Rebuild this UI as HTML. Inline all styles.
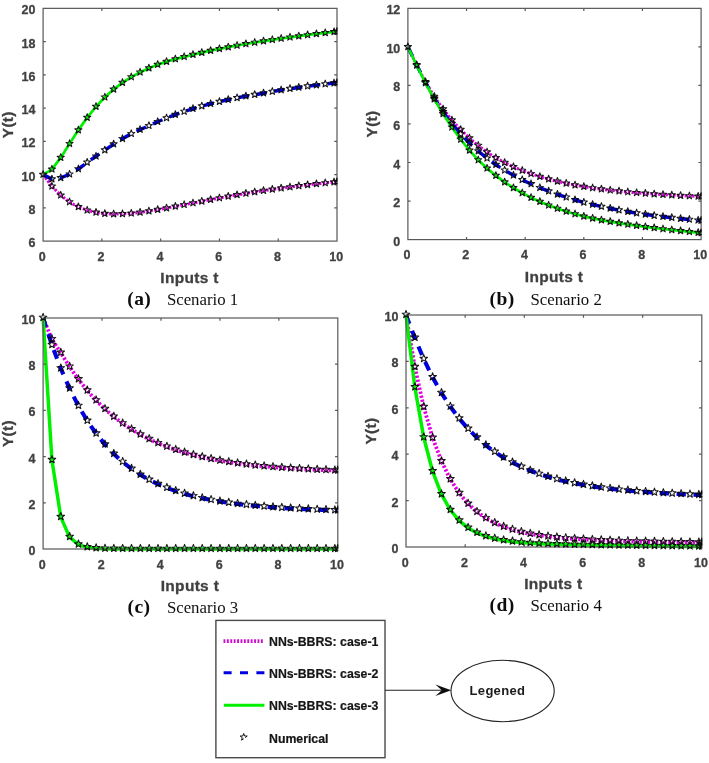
<!DOCTYPE html>
<html lang="en"><head><meta charset="utf-8"><title>NNs-BBRS scenarios</title>
<style>
html,body{margin:0;padding:0;background:#fff;}
body{width:709px;height:763px;overflow:hidden;position:relative;}
svg{position:absolute;left:0;top:0;display:block;}
.tk{font-family:"Liberation Sans",sans-serif;font-weight:bold;font-size:12.5px;fill:#404040;stroke:#444;stroke-width:0.3px;}
.lb{font-family:"Liberation Sans",sans-serif;font-weight:bold;font-size:15.5px;letter-spacing:0.3px;fill:#404040;stroke:#444;stroke-width:0.3px;}
.lg{font-family:"Liberation Sans",sans-serif;font-weight:bold;font-size:12.3px;fill:#141414;stroke:#141414;stroke-width:0.2px;}
.cb{font-family:"Liberation Serif",serif;font-weight:bold;font-size:19.5px;letter-spacing:0.4px;fill:#111;}
.cr{font-family:"Liberation Serif",serif;font-size:16.8px;fill:#111;}
.ax{fill:none;stroke:#585858;stroke-width:1.2;}
.st{fill:none;stroke:#000;stroke-opacity:0.92;stroke-width:1.05;stroke-linejoin:round;}
.g{fill:none;stroke:#00f000;stroke-width:2.7;}
.b{fill:none;stroke:#0000de;stroke-width:3;stroke-dasharray:9.5 7.8;}
.m{fill:none;stroke:#e000e0;stroke-width:2.8;stroke-dasharray:2.2 1.6;}
</style></head><body>
<svg width="709" height="763" viewBox="0 0 709 763">
<defs><filter id="bl" x="-5%" y="-5%" width="110%" height="110%"><feGaussianBlur stdDeviation="0.55"/></filter><filter id="bl2" x="-5%" y="-5%" width="110%" height="110%"><feGaussianBlur stdDeviation="0.75"/></filter></defs>
<rect x="0" y="0" width="709" height="763" fill="#ffffff"/>

<g id="curves-a" filter="url(#bl2)">
<clipPath id="clip-a"><rect x="35.1" y="0.35" width="302.5" height="248.75"/></clipPath>
<path class="m" style="stroke-width:3;stroke-dasharray:2.3 1.5" d="M43.1 174.6 L51.92 186.34 L60.73 195.33 L69.55 202.05 L78.37 206.93 L87.19 210.31 L96 212.49 L104.82 213.69 L113.64 214.14 L122.45 213.98 L131.27 213.35 L140.09 212.37 L148.9 211.12 L157.72 209.69 L166.54 208.12 L175.35 206.47 L184.17 204.78 L192.99 203.07 L201.81 201.38 L210.62 199.7 L219.44 198.07 L228.26 196.48 L237.07 194.96 L245.89 193.49 L254.71 192.08 L263.52 190.74 L272.34 189.46 L281.16 188.24 L289.98 187.08 L298.79 185.98 L307.61 184.94 L316.43 183.95 L325.24 183.01 L334.06 182.11 L337 181.82"/>
<path class="b" style="stroke-width:3.5;stroke-dasharray:10.5 7.5" d="M43.1 174.6 L51.92 179.15 L60.73 177.88 L69.55 174.28 L78.37 169.02 L87.19 162.41 L96 156.29 L104.82 150.12 L113.64 144.21 L122.45 138.8 L131.27 133.76 L140.09 129.58 L148.9 125.75 L157.72 121.76 L166.54 118.07 L175.35 114.68 L184.17 111.55 L192.99 108.7 L201.81 106.15 L210.62 103.81 L219.44 101.66 L228.26 99.69 L237.07 97.88 L245.89 96.22 L254.71 94.7 L263.52 93.2 L272.34 91.59 L281.16 90.1 L289.98 88.71 L298.79 87.42 L307.61 86.23 L316.43 85.12 L325.24 84.08 L334.06 83.11 L337 82.8"/>
<path class="g" style="stroke-width:2.7;stroke-dasharray:none" d="M43.1 174.6 L51.92 169.35 L60.73 157.64 L69.55 143.81 L78.37 130.12 L87.19 117.6 L96 106.64 L104.82 97.27 L113.64 89.35 L122.45 82.68 L131.27 77.05 L140.09 72.27 L148.9 68.16 L157.72 64.6 L166.54 61.63 L175.35 59.09 L184.17 56.82 L192.99 54.7 L201.81 52.6 L210.62 50.66 L219.44 48.84 L228.26 47.13 L237.07 45.52 L245.89 43.99 L254.71 42.54 L263.52 41.15 L272.34 39.81 L281.16 38.53 L289.98 37.3 L298.79 36.13 L307.61 35 L316.43 33.93 L325.24 32.9 L334.06 31.91 L337 31.59"/>
</g>
<g id="plot-a" filter="url(#bl)">
<rect class="ax" x="43.1" y="8.35" width="293.9" height="232.75"/>
<path class="ax" d="M101.88 241.1v-2.7M101.88 8.35v2.7M160.66 241.1v-2.7M160.66 8.35v2.7M219.44 241.1v-2.7M219.44 8.35v2.7M278.22 241.1v-2.7M278.22 8.35v2.7M43.1 207.85h2.7M337 207.85h-2.7M43.1 174.6h2.7M337 174.6h-2.7M43.1 141.35h2.7M337 141.35h-2.7M43.1 108.1h2.7M337 108.1h-2.7M43.1 74.85h2.7M337 74.85h-2.7M43.1 41.6h2.7M337 41.6h-2.7"/>
<text class="tk" x="42.3" y="260.9" text-anchor="middle">0</text>
<text class="tk" x="101.08" y="260.9" text-anchor="middle">2</text>
<text class="tk" x="159.86" y="260.9" text-anchor="middle">4</text>
<text class="tk" x="218.64" y="260.9" text-anchor="middle">6</text>
<text class="tk" x="277.42" y="260.9" text-anchor="middle">8</text>
<text class="tk" x="336.2" y="260.9" text-anchor="middle">10</text>
<text class="tk" x="35.5" y="247.1" text-anchor="end">6</text>
<text class="tk" x="35.5" y="213.85" text-anchor="end">8</text>
<text class="tk" x="35.5" y="180.6" text-anchor="end">10</text>
<text class="tk" x="35.5" y="147.35" text-anchor="end">12</text>
<text class="tk" x="35.5" y="114.1" text-anchor="end">14</text>
<text class="tk" x="35.5" y="80.85" text-anchor="end">16</text>
<text class="tk" x="35.5" y="47.6" text-anchor="end">18</text>
<text class="tk" x="35.5" y="14.35" text-anchor="end">20</text>
<text class="lb" x="189.55" y="283.1" text-anchor="middle">Inputs t</text>
<text class="lb" transform="translate(12.6 124.72) rotate(-90)" text-anchor="middle">Y(t)</text>
<text class="cb" x="127.3" y="305.4">(a)</text>
<text class="cr" x="166.9" y="305.4">Scenario 1</text>
</g>
<g id="stars-a" filter="url(#bl2)">
<path class="st" clip-path="url(#clip-a)" d="M43.1 170.65L44.01 173.14L46.67 173.24L44.58 174.88L45.3 177.43L43.1 175.96L40.9 177.43L41.62 174.88L39.53 173.24L42.19 173.14ZM51.92 182.39L52.83 184.88L55.48 184.98L53.4 186.62L54.12 189.18L51.92 187.7L49.71 189.18L50.44 186.62L48.35 184.98L51 184.88ZM60.73 191.38L61.65 193.87L64.3 193.97L62.21 195.61L62.94 198.16L60.73 196.68L58.53 198.16L59.25 195.61L57.17 193.97L59.82 193.87ZM69.55 198.1L70.47 200.59L73.12 200.69L71.03 202.33L71.76 204.88L69.55 203.41L67.35 204.88L68.07 202.33L65.98 200.69L68.64 200.59ZM78.37 202.98L79.28 205.47L81.93 205.57L79.85 207.21L80.57 209.76L78.37 208.29L76.16 209.76L76.89 207.21L74.8 205.57L77.45 205.47ZM87.19 206.36L88.1 208.85L90.75 208.95L88.67 210.59L89.39 213.15L87.19 211.67L84.98 213.15L85.7 210.59L83.62 208.95L86.27 208.85ZM96 208.54L96.92 211.03L99.57 211.13L97.48 212.77L98.21 215.32L96 213.84L93.8 215.32L94.52 212.77L92.44 211.13L95.09 211.03ZM104.82 209.74L105.73 212.24L108.39 212.34L106.3 213.98L107.02 216.53L104.82 215.05L102.61 216.53L103.34 213.98L101.25 212.34L103.9 212.24ZM113.64 210.19L114.55 212.68L117.2 212.78L115.12 214.42L115.84 216.97L113.64 215.49L111.43 216.97L112.16 214.42L110.07 212.78L112.72 212.68ZM122.45 210.03L123.37 212.52L126.02 212.62L123.93 214.26L124.66 216.81L122.45 215.33L120.25 216.81L120.97 214.26L118.89 212.62L121.54 212.52ZM131.27 209.4L132.18 211.89L134.84 211.99L132.75 213.63L133.47 216.18L131.27 214.71L129.07 216.18L129.79 213.63L127.7 211.99L130.36 211.89ZM140.09 208.42L141 210.91L143.65 211.01L141.57 212.65L142.29 215.2L140.09 213.72L137.88 215.2L138.61 212.65L136.52 211.01L139.17 210.91ZM148.9 207.17L149.82 209.66L152.47 209.76L150.38 211.4L151.11 213.96L148.9 212.48L146.7 213.96L147.42 211.4L145.34 209.76L147.99 209.66ZM157.72 205.74L158.64 208.23L161.29 208.33L159.2 209.97L159.93 212.52L157.72 211.04L155.52 212.52L156.24 209.97L154.15 208.33L156.81 208.23ZM166.54 204.17L167.45 206.66L170.1 206.76L168.02 208.4L168.74 210.96L166.54 209.48L164.33 210.96L165.06 208.4L162.97 206.76L165.62 206.66ZM175.35 202.52L176.27 205.02L178.92 205.12L176.84 206.76L177.56 209.31L175.35 207.83L173.15 209.31L173.87 206.76L171.79 205.12L174.44 205.02ZM184.17 200.83L185.09 203.32L187.74 203.42L185.65 205.06L186.38 207.62L184.17 206.14L181.97 207.62L182.69 205.06L180.61 203.42L183.26 203.32ZM192.99 199.12L193.9 201.62L196.56 201.72L194.47 203.36L195.19 205.91L192.99 204.43L190.78 205.91L191.51 203.36L189.42 201.72L192.07 201.62ZM201.81 197.43L202.72 199.92L205.37 200.02L203.29 201.66L204.01 204.21L201.81 202.73L199.6 204.21L200.33 201.66L198.24 200.02L200.89 199.92ZM210.62 195.75L211.54 198.24L214.19 198.34L212.1 199.98L212.83 202.54L210.62 201.06L208.42 202.54L209.14 199.98L207.06 198.34L209.71 198.24ZM219.44 194.12L220.35 196.61L223.01 196.71L220.92 198.35L221.64 200.9L219.44 199.43L217.24 200.9L217.96 198.35L215.87 196.71L218.53 196.61ZM228.26 192.53L229.17 195.03L231.82 195.13L229.74 196.77L230.46 199.32L228.26 197.84L226.05 199.32L226.78 196.77L224.69 195.13L227.34 195.03ZM237.07 191.01L237.99 193.5L240.64 193.6L238.55 195.24L239.28 197.79L237.07 196.31L234.87 197.79L235.59 195.24L233.51 193.6L236.16 193.5ZM245.89 189.54L246.81 192.03L249.46 192.13L247.37 193.77L248.1 196.32L245.89 194.84L243.69 196.32L244.41 193.77L242.32 192.13L244.98 192.03ZM254.71 188.13L255.62 190.62L258.27 190.72L256.19 192.36L256.91 194.91L254.71 193.44L252.5 194.91L253.23 192.36L251.14 190.72L253.79 190.62ZM263.52 186.79L264.44 189.28L267.09 189.38L265.01 191.02L265.73 193.57L263.52 192.09L261.32 193.57L262.04 191.02L259.96 189.38L262.61 189.28ZM272.34 185.51L273.26 188L275.91 188.1L273.82 189.74L274.55 192.29L272.34 190.81L270.14 192.29L270.86 189.74L268.78 188.1L271.43 188ZM281.16 184.29L282.07 186.78L284.73 186.88L282.64 188.52L283.36 191.07L281.16 189.6L278.95 191.07L279.68 188.52L277.59 186.88L280.24 186.78ZM289.98 183.13L290.89 185.62L293.54 185.72L291.46 187.36L292.18 189.92L289.98 188.44L287.77 189.92L288.5 187.36L286.41 185.72L289.06 185.62ZM298.79 182.03L299.71 184.52L302.36 184.62L300.27 186.26L301 188.82L298.79 187.34L296.59 188.82L297.31 186.26L295.23 184.62L297.88 184.52ZM307.61 180.99L308.52 183.48L311.18 183.58L309.09 185.22L309.81 187.77L307.61 186.29L305.41 187.77L306.13 185.22L304.04 183.58L306.7 183.48ZM316.43 180L317.34 182.49L319.99 182.59L317.91 184.23L318.63 186.78L316.43 185.3L314.22 186.78L314.95 184.23L312.86 182.59L315.51 182.49ZM325.24 179.06L326.16 181.55L328.81 181.65L326.72 183.29L327.45 185.84L325.24 184.36L323.04 185.84L323.76 183.29L321.68 181.65L324.33 181.55ZM334.06 178.16L334.98 180.65L337.63 180.75L335.54 182.39L336.27 184.95L334.06 183.47L331.86 184.95L332.58 182.39L330.49 180.75L333.15 180.65ZM337 177.87L337.91 180.36L340.57 180.46L338.48 182.1L339.2 184.66L337 183.18L334.8 184.66L335.52 182.1L333.43 180.46L336.09 180.36ZM43.1 170.65L44.01 173.14L46.67 173.24L44.58 174.88L45.3 177.43L43.1 175.96L40.9 177.43L41.62 174.88L39.53 173.24L42.19 173.14ZM51.92 175.2L52.83 177.69L55.48 177.79L53.4 179.43L54.12 181.98L51.92 180.51L49.71 181.98L50.44 179.43L48.35 177.79L51 177.69ZM60.73 173.93L61.65 176.42L64.3 176.52L62.21 178.16L62.94 180.71L60.73 179.23L58.53 180.71L59.25 178.16L57.17 176.52L59.82 176.42ZM69.55 170.33L70.47 172.82L73.12 172.92L71.03 174.56L71.76 177.11L69.55 175.63L67.35 177.11L68.07 174.56L65.98 172.92L68.64 172.82ZM78.37 165.07L79.28 167.56L81.93 167.66L79.85 169.3L80.57 171.85L78.37 170.37L76.16 171.85L76.89 169.3L74.8 167.66L77.45 167.56ZM87.19 158.46L88.1 160.95L90.75 161.05L88.67 162.69L89.39 165.24L87.19 163.77L84.98 165.24L85.7 162.69L83.62 161.05L86.27 160.95ZM96 152.34L96.92 154.83L99.57 154.93L97.48 156.57L98.21 159.12L96 157.65L93.8 159.12L94.52 156.57L92.44 154.93L95.09 154.83ZM104.82 146.17L105.73 148.66L108.39 148.76L106.3 150.4L107.02 152.95L104.82 151.47L102.61 152.95L103.34 150.4L101.25 148.76L103.9 148.66ZM113.64 140.26L114.55 142.75L117.2 142.85L115.12 144.49L115.84 147.04L113.64 145.56L111.43 147.04L112.16 144.49L110.07 142.85L112.72 142.75ZM122.45 134.85L123.37 137.34L126.02 137.44L123.93 139.08L124.66 141.64L122.45 140.16L120.25 141.64L120.97 139.08L118.89 137.44L121.54 137.34ZM131.27 129.81L132.18 132.3L134.84 132.4L132.75 134.04L133.47 136.59L131.27 135.12L129.07 136.59L129.79 134.04L127.7 132.4L130.36 132.3ZM140.09 125.63L141 128.12L143.65 128.22L141.57 129.86L142.29 132.42L140.09 130.94L137.88 132.42L138.61 129.86L136.52 128.22L139.17 128.12ZM148.9 121.8L149.82 124.3L152.47 124.4L150.38 126.03L151.11 128.59L148.9 127.11L146.7 128.59L147.42 126.03L145.34 124.4L147.99 124.3ZM157.72 117.81L158.64 120.3L161.29 120.4L159.2 122.04L159.93 124.59L157.72 123.12L155.52 124.59L156.24 122.04L154.15 120.4L156.81 120.3ZM166.54 114.12L167.45 116.62L170.1 116.72L168.02 118.36L168.74 120.91L166.54 119.43L164.33 120.91L165.06 118.36L162.97 116.72L165.62 116.62ZM175.35 110.73L176.27 113.22L178.92 113.32L176.84 114.96L177.56 117.51L175.35 116.03L173.15 117.51L173.87 114.96L171.79 113.32L174.44 113.22ZM184.17 107.6L185.09 110.09L187.74 110.19L185.65 111.83L186.38 114.38L184.17 112.9L181.97 114.38L182.69 111.83L180.61 110.19L183.26 110.09ZM192.99 104.75L193.9 107.24L196.56 107.34L194.47 108.98L195.19 111.53L192.99 110.06L190.78 111.53L191.51 108.98L189.42 107.34L192.07 107.24ZM201.81 102.2L202.72 104.69L205.37 104.79L203.29 106.43L204.01 108.98L201.81 107.51L199.6 108.98L200.33 106.43L198.24 104.79L200.89 104.69ZM210.62 99.86L211.54 102.35L214.19 102.45L212.1 104.09L212.83 106.64L210.62 105.17L208.42 106.64L209.14 104.09L207.06 102.45L209.71 102.35ZM219.44 97.71L220.35 100.2L223.01 100.3L220.92 101.94L221.64 104.5L219.44 103.02L217.24 104.5L217.96 101.94L215.87 100.3L218.53 100.2ZM228.26 95.74L229.17 98.24L231.82 98.34L229.74 99.98L230.46 102.53L228.26 101.05L226.05 102.53L226.78 99.98L224.69 98.34L227.34 98.24ZM237.07 93.93L237.99 96.43L240.64 96.53L238.55 98.17L239.28 100.72L237.07 99.24L234.87 100.72L235.59 98.17L233.51 96.53L236.16 96.43ZM245.89 92.27L246.81 94.76L249.46 94.86L247.37 96.5L248.1 99.06L245.89 97.58L243.69 99.06L244.41 96.5L242.32 94.86L244.98 94.76ZM254.71 90.75L255.62 93.24L258.27 93.34L256.19 94.98L256.91 97.53L254.71 96.06L252.5 97.53L253.23 94.98L251.14 93.34L253.79 93.24ZM263.52 89.25L264.44 91.74L267.09 91.84L265.01 93.48L265.73 96.03L263.52 94.55L261.32 96.03L262.04 93.48L259.96 91.84L262.61 91.74ZM272.34 87.64L273.26 90.14L275.91 90.24L273.82 91.88L274.55 94.43L272.34 92.95L270.14 94.43L270.86 91.88L268.78 90.24L271.43 90.14ZM281.16 86.15L282.07 88.64L284.73 88.74L282.64 90.38L283.36 92.93L281.16 91.46L278.95 92.93L279.68 90.38L277.59 88.74L280.24 88.64ZM289.98 84.76L290.89 87.25L293.54 87.35L291.46 88.99L292.18 91.54L289.98 90.06L287.77 91.54L288.5 88.99L286.41 87.35L289.06 87.25ZM298.79 83.47L299.71 85.96L302.36 86.06L300.27 87.7L301 90.26L298.79 88.78L296.59 90.26L297.31 87.7L295.23 86.06L297.88 85.96ZM307.61 82.28L308.52 84.77L311.18 84.87L309.09 86.51L309.81 89.07L307.61 87.59L305.41 89.07L306.13 86.51L304.04 84.87L306.7 84.77ZM316.43 81.17L317.34 83.66L319.99 83.76L317.91 85.4L318.63 87.95L316.43 86.48L314.22 87.95L314.95 85.4L312.86 83.76L315.51 83.66ZM325.24 80.13L326.16 82.62L328.81 82.72L326.72 84.36L327.45 86.91L325.24 85.44L323.04 86.91L323.76 84.36L321.68 82.72L324.33 82.62ZM334.06 79.16L334.98 81.65L337.63 81.75L335.54 83.39L336.27 85.94L334.06 84.46L331.86 85.94L332.58 83.39L330.49 81.75L333.15 81.65ZM337 78.85L337.91 81.34L340.57 81.44L338.48 83.08L339.2 85.63L337 84.15L334.8 85.63L335.52 83.08L333.43 81.44L336.09 81.34ZM43.1 170.65L44.01 173.14L46.67 173.24L44.58 174.88L45.3 177.43L43.1 175.96L40.9 177.43L41.62 174.88L39.53 173.24L42.19 173.14ZM51.92 165.4L52.83 167.89L55.48 167.99L53.4 169.63L54.12 172.18L51.92 170.7L49.71 172.18L50.44 169.63L48.35 167.99L51 167.89ZM60.73 153.69L61.65 156.18L64.3 156.28L62.21 157.92L62.94 160.47L60.73 158.99L58.53 160.47L59.25 157.92L57.17 156.28L59.82 156.18ZM69.55 139.86L70.47 142.35L73.12 142.45L71.03 144.09L71.76 146.64L69.55 145.17L67.35 146.64L68.07 144.09L65.98 142.45L68.64 142.35ZM78.37 126.17L79.28 128.66L81.93 128.76L79.85 130.4L80.57 132.95L78.37 131.47L76.16 132.95L76.89 130.4L74.8 128.76L77.45 128.66ZM87.19 113.65L88.1 116.14L90.75 116.24L88.67 117.88L89.39 120.44L87.19 118.96L84.98 120.44L85.7 117.88L83.62 116.24L86.27 116.14ZM96 102.69L96.92 105.19L99.57 105.29L97.48 106.93L98.21 109.48L96 108L93.8 109.48L94.52 106.93L92.44 105.29L95.09 105.19ZM104.82 93.32L105.73 95.81L108.39 95.91L106.3 97.55L107.02 100.11L104.82 98.63L102.61 100.11L103.34 97.55L101.25 95.91L103.9 95.81ZM113.64 85.4L114.55 87.89L117.2 87.99L115.12 89.63L115.84 92.19L113.64 90.71L111.43 92.19L112.16 89.63L110.07 87.99L112.72 87.89ZM122.45 78.73L123.37 81.22L126.02 81.32L123.93 82.96L124.66 85.52L122.45 84.04L120.25 85.52L120.97 82.96L118.89 81.32L121.54 81.22ZM131.27 73.1L132.18 75.59L134.84 75.69L132.75 77.33L133.47 79.89L131.27 78.41L129.07 79.89L129.79 77.33L127.7 75.69L130.36 75.59ZM140.09 68.32L141 70.81L143.65 70.91L141.57 72.55L142.29 75.1L140.09 73.62L137.88 75.1L138.61 72.55L136.52 70.91L139.17 70.81ZM148.9 64.21L149.82 66.7L152.47 66.8L150.38 68.44L151.11 71L148.9 69.52L146.7 71L147.42 68.44L145.34 66.8L147.99 66.7ZM157.72 60.65L158.64 63.14L161.29 63.24L159.2 64.88L159.93 67.43L157.72 65.96L155.52 67.43L156.24 64.88L154.15 63.24L156.81 63.14ZM166.54 57.68L167.45 60.17L170.1 60.27L168.02 61.91L168.74 64.47L166.54 62.99L164.33 64.47L165.06 61.91L162.97 60.27L165.62 60.17ZM175.35 55.14L176.27 57.63L178.92 57.73L176.84 59.37L177.56 61.92L175.35 60.45L173.15 61.92L173.87 59.37L171.79 57.73L174.44 57.63ZM184.17 52.87L185.09 55.36L187.74 55.46L185.65 57.1L186.38 59.65L184.17 58.18L181.97 59.65L182.69 57.1L180.61 55.46L183.26 55.36ZM192.99 50.75L193.9 53.24L196.56 53.34L194.47 54.98L195.19 57.53L192.99 56.05L190.78 57.53L191.51 54.98L189.42 53.34L192.07 53.24ZM201.81 48.65L202.72 51.14L205.37 51.24L203.29 52.88L204.01 55.44L201.81 53.96L199.6 55.44L200.33 52.88L198.24 51.24L200.89 51.14ZM210.62 46.71L211.54 49.2L214.19 49.3L212.1 50.94L212.83 53.49L210.62 52.01L208.42 53.49L209.14 50.94L207.06 49.3L209.71 49.2ZM219.44 44.89L220.35 47.38L223.01 47.48L220.92 49.12L221.64 51.67L219.44 50.2L217.24 51.67L217.96 49.12L215.87 47.48L218.53 47.38ZM228.26 43.18L229.17 45.67L231.82 45.77L229.74 47.41L230.46 49.97L228.26 48.49L226.05 49.97L226.78 47.41L224.69 45.77L227.34 45.67ZM237.07 41.57L237.99 44.06L240.64 44.16L238.55 45.8L239.28 48.35L237.07 46.87L234.87 48.35L235.59 45.8L233.51 44.16L236.16 44.06ZM245.89 40.04L246.81 42.53L249.46 42.63L247.37 44.27L248.1 46.82L245.89 45.35L243.69 46.82L244.41 44.27L242.32 42.63L244.98 42.53ZM254.71 38.59L255.62 41.08L258.27 41.18L256.19 42.82L256.91 45.37L254.71 43.89L252.5 45.37L253.23 42.82L251.14 41.18L253.79 41.08ZM263.52 37.2L264.44 39.69L267.09 39.79L265.01 41.43L265.73 43.98L263.52 42.5L261.32 43.98L262.04 41.43L259.96 39.79L262.61 39.69ZM272.34 35.86L273.26 38.35L275.91 38.45L273.82 40.09L274.55 42.64L272.34 41.16L270.14 42.64L270.86 40.09L268.78 38.45L271.43 38.35ZM281.16 34.58L282.07 37.07L284.73 37.17L282.64 38.81L283.36 41.36L281.16 39.88L278.95 41.36L279.68 38.81L277.59 37.17L280.24 37.07ZM289.98 33.35L290.89 35.84L293.54 35.94L291.46 37.58L292.18 40.13L289.98 38.66L287.77 40.13L288.5 37.58L286.41 35.94L289.06 35.84ZM298.79 32.18L299.71 34.67L302.36 34.77L300.27 36.41L301 38.96L298.79 37.48L296.59 38.96L297.31 36.41L295.23 34.77L297.88 34.67ZM307.61 31.05L308.52 33.55L311.18 33.65L309.09 35.29L309.81 37.84L307.61 36.36L305.41 37.84L306.13 35.29L304.04 33.65L306.7 33.55ZM316.43 29.98L317.34 32.47L319.99 32.57L317.91 34.21L318.63 36.76L316.43 35.28L314.22 36.76L314.95 34.21L312.86 32.57L315.51 32.47ZM325.24 28.95L326.16 31.44L328.81 31.54L326.72 33.18L327.45 35.73L325.24 34.25L323.04 35.73L323.76 33.18L321.68 31.54L324.33 31.44ZM334.06 27.96L334.98 30.45L337.63 30.55L335.54 32.19L336.27 34.74L334.06 33.27L331.86 34.74L332.58 32.19L330.49 30.55L333.15 30.45ZM337 27.64L337.91 30.13L340.57 30.23L338.48 31.87L339.2 34.42L337 32.95L334.8 34.42L335.52 31.87L333.43 30.23L336.09 30.13Z"/>
</g>
<g id="curves-b" filter="url(#bl2)">
<clipPath id="clip-b"><rect x="399.9" y="0.35" width="301.8" height="247.25"/></clipPath>
<path class="m" style="stroke-width:3;stroke-dasharray:2.3 1.5" d="M407.9 46.89 L416.7 65.16 L425.49 81.92 L434.29 96.51 L443.08 109.17 L451.88 120.15 L460.68 129.7 L469.47 138.09 L478.27 145.55 L487.06 152.09 L495.86 157.83 L504.66 162.65 L513.45 166.86 L522.25 170.56 L531.04 173.81 L539.84 176.67 L548.64 179.19 L557.43 181.42 L566.23 183.39 L575.02 185.14 L583.82 186.7 L592.62 188.03 L601.41 189.21 L610.21 190.27 L619 191.21 L627.8 192.06 L636.6 192.82 L645.39 193.5 L654.19 194.11 L662.98 194.67 L671.78 195.17 L680.58 195.63 L689.37 196.04 L698.17 196.42 L701.1 196.53"/>
<path class="b" style="stroke-width:3.5;stroke-dasharray:10.5 7.5" d="M407.9 46.89 L416.7 64.95 L425.49 82.49 L434.29 98.26 L443.08 112 L451.88 123.86 L460.68 134.12 L469.47 143.11 L478.27 151.17 L487.06 158.32 L495.86 164.72 L504.66 170.28 L513.45 175.3 L522.25 179.85 L531.04 183.98 L539.84 187.76 L548.64 191.21 L557.43 194.38 L566.23 197.27 L575.02 199.93 L583.82 202.38 L592.62 204.57 L601.41 206.58 L610.21 208.43 L619 210.13 L627.8 211.68 L636.6 213.11 L645.39 214.42 L654.19 215.62 L662.98 216.72 L671.78 217.73 L680.58 218.66 L689.37 219.51 L698.17 220.29 L701.1 220.53"/>
<path class="g" style="stroke-width:2.7;stroke-dasharray:none" d="M407.9 46.89 L416.7 65.47 L425.49 83.01 L434.29 99.22 L443.08 113.97 L451.88 127.26 L460.68 139.5 L469.47 150.43 L478.27 160.04 L487.06 168.34 L495.86 175.67 L504.66 182.15 L513.45 187.88 L522.25 193.03 L531.04 197.6 L539.84 201.67 L548.64 205.31 L557.43 208.55 L566.23 211.45 L575.02 214.06 L583.82 216.42 L592.62 218.36 L601.41 220.12 L610.21 221.71 L619 223.16 L627.8 224.49 L636.6 225.71 L645.39 226.87 L654.19 227.98 L662.98 229.02 L671.78 230.01 L680.58 230.94 L689.37 231.83 L698.17 232.68 L701.1 232.95"/>
</g>
<g id="plot-b" filter="url(#bl)">
<rect class="ax" x="407.9" y="8.35" width="293.2" height="231.25"/>
<path class="ax" d="M466.54 239.6v-2.7M466.54 8.35v2.7M525.18 239.6v-2.7M525.18 8.35v2.7M583.82 239.6v-2.7M583.82 8.35v2.7M642.46 239.6v-2.7M642.46 8.35v2.7M407.9 201.06h2.7M701.1 201.06h-2.7M407.9 162.52h2.7M701.1 162.52h-2.7M407.9 123.97h2.7M701.1 123.97h-2.7M407.9 85.43h2.7M701.1 85.43h-2.7M407.9 46.89h2.7M701.1 46.89h-2.7"/>
<text class="tk" x="407.1" y="259.4" text-anchor="middle">0</text>
<text class="tk" x="465.74" y="259.4" text-anchor="middle">2</text>
<text class="tk" x="524.38" y="259.4" text-anchor="middle">4</text>
<text class="tk" x="583.02" y="259.4" text-anchor="middle">6</text>
<text class="tk" x="641.66" y="259.4" text-anchor="middle">8</text>
<text class="tk" x="700.3" y="259.4" text-anchor="middle">10</text>
<text class="tk" x="400.3" y="245.6" text-anchor="end">0</text>
<text class="tk" x="400.3" y="207.06" text-anchor="end">2</text>
<text class="tk" x="400.3" y="168.52" text-anchor="end">4</text>
<text class="tk" x="400.3" y="129.97" text-anchor="end">6</text>
<text class="tk" x="400.3" y="91.43" text-anchor="end">8</text>
<text class="tk" x="400.3" y="52.89" text-anchor="end">10</text>
<text class="tk" x="400.3" y="14.35" text-anchor="end">12</text>
<text class="lb" x="554" y="281.6" text-anchor="middle">Inputs t</text>
<text class="lb" transform="translate(377.4 123.97) rotate(-90)" text-anchor="middle">Y(t)</text>
<text class="cb" x="489.5" y="304.8">(b)</text>
<text class="cr" x="530.5" y="304.8">Scenario 2</text>
</g>
<g id="stars-b" filter="url(#bl2)">
<path class="st" clip-path="url(#clip-b)" d="M407.9 42.94L408.81 45.43L411.47 45.53L409.38 47.17L410.1 49.73L407.9 48.25L405.7 49.73L406.42 47.17L404.33 45.53L406.99 45.43ZM416.7 61.21L417.61 63.7L420.26 63.8L418.18 65.44L418.9 67.99L416.7 66.52L414.49 67.99L415.22 65.44L413.13 63.8L415.78 63.7ZM425.49 77.97L426.41 80.47L429.06 80.57L426.97 82.21L427.7 84.76L425.49 83.28L423.29 84.76L424.01 82.21L421.93 80.57L424.58 80.47ZM434.29 92.56L435.2 95.05L437.85 95.15L435.77 96.79L436.49 99.34L434.29 97.87L432.08 99.34L432.81 96.79L430.72 95.15L433.37 95.05ZM443.08 105.22L444 107.71L446.65 107.81L444.56 109.45L445.29 112L443.08 110.52L440.88 112L441.6 109.45L439.52 107.81L442.17 107.71ZM451.88 116.2L452.79 118.7L455.45 118.8L453.36 120.44L454.08 122.99L451.88 121.51L449.68 122.99L450.4 120.44L448.31 118.8L450.97 118.7ZM460.68 125.75L461.59 128.24L464.24 128.34L462.16 129.98L462.88 132.54L460.68 131.06L458.47 132.54L459.2 129.98L457.11 128.34L459.76 128.24ZM469.47 134.14L470.39 136.63L473.04 136.73L470.95 138.37L471.68 140.92L469.47 139.44L467.27 140.92L467.99 138.37L465.91 136.73L468.56 136.63ZM478.27 141.6L479.18 144.09L481.83 144.19L479.75 145.83L480.47 148.39L478.27 146.91L476.06 148.39L476.79 145.83L474.7 144.19L477.35 144.09ZM487.06 148.14L487.98 150.63L490.63 150.73L488.54 152.37L489.27 154.93L487.06 153.45L484.86 154.93L485.58 152.37L483.5 150.73L486.15 150.63ZM495.86 153.88L496.77 156.37L499.43 156.47L497.34 158.11L498.06 160.67L495.86 159.19L493.66 160.67L494.38 158.11L492.29 156.47L494.95 156.37ZM504.66 158.7L505.57 161.19L508.22 161.29L506.14 162.93L506.86 165.48L504.66 164L502.45 165.48L503.18 162.93L501.09 161.29L503.74 161.19ZM513.45 162.91L514.37 165.4L517.02 165.5L514.93 167.14L515.66 169.7L513.45 168.22L511.25 169.7L511.97 167.14L509.89 165.5L512.54 165.4ZM522.25 166.61L523.16 169.1L525.81 169.2L523.73 170.84L524.45 173.39L522.25 171.92L520.04 173.39L520.77 170.84L518.68 169.2L521.33 169.1ZM531.04 169.86L531.96 172.35L534.61 172.45L532.52 174.09L533.25 176.64L531.04 175.16L528.84 176.64L529.56 174.09L527.48 172.45L530.13 172.35ZM539.84 172.72L540.75 175.21L543.41 175.31L541.32 176.95L542.04 179.5L539.84 178.02L537.64 179.5L538.36 176.95L536.27 175.31L538.93 175.21ZM548.64 175.24L549.55 177.73L552.2 177.83L550.12 179.47L550.84 182.02L548.64 180.54L546.43 182.02L547.16 179.47L545.07 177.83L547.72 177.73ZM557.43 177.47L558.35 179.96L561 180.06L558.91 181.7L559.64 184.25L557.43 182.77L555.23 184.25L555.95 181.7L553.87 180.06L556.52 179.96ZM566.23 179.44L567.14 181.93L569.79 182.03L567.71 183.67L568.43 186.22L566.23 184.74L564.02 186.22L564.75 183.67L562.66 182.03L565.31 181.93ZM575.02 181.19L575.94 183.68L578.59 183.78L576.5 185.42L577.23 187.97L575.02 186.5L572.82 187.97L573.54 185.42L571.46 183.78L574.11 183.68ZM583.82 182.75L584.73 185.24L587.39 185.34L585.3 186.98L586.02 189.53L583.82 188.05L581.62 189.53L582.34 186.98L580.25 185.34L582.91 185.24ZM592.62 184.08L593.53 186.57L596.18 186.67L594.1 188.31L594.82 190.86L592.62 189.39L590.41 190.86L591.14 188.31L589.05 186.67L591.7 186.57ZM601.41 185.26L602.33 187.76L604.98 187.86L602.89 189.49L603.62 192.05L601.41 190.57L599.21 192.05L599.93 189.49L597.85 187.86L600.5 187.76ZM610.21 186.32L611.12 188.81L613.77 188.91L611.69 190.55L612.41 193.1L610.21 191.63L608 193.1L608.73 190.55L606.64 188.91L609.29 188.81ZM619 187.26L619.92 189.75L622.57 189.86L620.48 191.49L621.21 194.05L619 192.57L616.8 194.05L617.52 191.49L615.44 189.86L618.09 189.75ZM627.8 188.11L628.71 190.6L631.37 190.7L629.28 192.34L630 194.89L627.8 193.41L625.6 194.89L626.32 192.34L624.23 190.7L626.89 190.6ZM636.6 188.87L637.51 191.36L640.16 191.46L638.08 193.1L638.8 195.65L636.6 194.17L634.39 195.65L635.12 193.1L633.03 191.46L635.68 191.36ZM645.39 189.55L646.31 192.04L648.96 192.14L646.87 193.78L647.6 196.33L645.39 194.85L643.19 196.33L643.91 193.78L641.83 192.14L644.48 192.04ZM654.19 190.16L655.1 192.65L657.75 192.75L655.67 194.39L656.39 196.95L654.19 195.47L651.98 196.95L652.71 194.39L650.62 192.75L653.27 192.65ZM662.98 190.72L663.9 193.21L666.55 193.31L664.46 194.95L665.19 197.5L662.98 196.02L660.78 197.5L661.5 194.95L659.42 193.31L662.07 193.21ZM671.78 191.22L672.69 193.71L675.35 193.81L673.26 195.45L673.98 198L671.78 196.53L669.58 198L670.3 195.45L668.21 193.81L670.87 193.71ZM680.58 191.68L681.49 194.17L684.14 194.27L682.06 195.91L682.78 198.46L680.58 196.98L678.37 198.46L679.1 195.91L677.01 194.27L679.66 194.17ZM689.37 192.09L690.29 194.58L692.94 194.68L690.85 196.32L691.58 198.87L689.37 197.4L687.17 198.87L687.89 196.32L685.81 194.68L688.46 194.58ZM698.17 192.47L699.08 194.96L701.73 195.06L699.65 196.7L700.37 199.25L698.17 197.77L695.96 199.25L696.69 196.7L694.6 195.06L697.25 194.96ZM701.1 192.58L702.01 195.07L704.67 195.17L702.58 196.81L703.3 199.37L701.1 197.89L698.9 199.37L699.62 196.81L697.53 195.17L700.19 195.07ZM407.9 42.94L408.81 45.43L411.47 45.53L409.38 47.17L410.1 49.73L407.9 48.25L405.7 49.73L406.42 47.17L404.33 45.53L406.99 45.43ZM416.7 61L417.61 63.49L420.26 63.59L418.18 65.23L418.9 67.78L416.7 66.3L414.49 67.78L415.22 65.23L413.13 63.59L415.78 63.49ZM425.49 78.54L426.41 81.04L429.06 81.14L426.97 82.78L427.7 85.33L425.49 83.85L423.29 85.33L424.01 82.78L421.93 81.14L424.58 81.04ZM434.29 94.31L435.2 96.8L437.85 96.9L435.77 98.54L436.49 101.1L434.29 99.62L432.08 101.1L432.81 98.54L430.72 96.9L433.37 96.8ZM443.08 108.05L444 110.54L446.65 110.64L444.56 112.28L445.29 114.84L443.08 113.36L440.88 114.84L441.6 112.28L439.52 110.64L442.17 110.54ZM451.88 119.91L452.79 122.4L455.45 122.5L453.36 124.14L454.08 126.7L451.88 125.22L449.68 126.7L450.4 124.14L448.31 122.5L450.97 122.4ZM460.68 130.17L461.59 132.66L464.24 132.76L462.16 134.4L462.88 136.95L460.68 135.47L458.47 136.95L459.2 134.4L457.11 132.76L459.76 132.66ZM469.47 139.16L470.39 141.65L473.04 141.75L470.95 143.39L471.68 145.95L469.47 144.47L467.27 145.95L467.99 143.39L465.91 141.75L468.56 141.65ZM478.27 147.22L479.18 149.71L481.83 149.81L479.75 151.45L480.47 154L478.27 152.52L476.06 154L476.79 151.45L474.7 149.81L477.35 149.71ZM487.06 154.37L487.98 156.86L490.63 156.96L488.54 158.6L489.27 161.15L487.06 159.68L484.86 161.15L485.58 158.6L483.5 156.96L486.15 156.86ZM495.86 160.77L496.77 163.26L499.43 163.36L497.34 165L498.06 167.56L495.86 166.08L493.66 167.56L494.38 165L492.29 163.36L494.95 163.26ZM504.66 166.33L505.57 168.82L508.22 168.92L506.14 170.56L506.86 173.11L504.66 171.64L502.45 173.11L503.18 170.56L501.09 168.92L503.74 168.82ZM513.45 171.35L514.37 173.84L517.02 173.94L514.93 175.58L515.66 178.13L513.45 176.65L511.25 178.13L511.97 175.58L509.89 173.94L512.54 173.84ZM522.25 175.9L523.16 178.39L525.81 178.49L523.73 180.13L524.45 182.68L522.25 181.2L520.04 182.68L520.77 180.13L518.68 178.49L521.33 178.39ZM531.04 180.03L531.96 182.53L534.61 182.63L532.52 184.27L533.25 186.82L531.04 185.34L528.84 186.82L529.56 184.27L527.48 182.63L530.13 182.53ZM539.84 183.81L540.75 186.3L543.41 186.4L541.32 188.04L542.04 190.6L539.84 189.12L537.64 190.6L538.36 188.04L536.27 186.4L538.93 186.3ZM548.64 187.26L549.55 189.76L552.2 189.86L550.12 191.49L550.84 194.05L548.64 192.57L546.43 194.05L547.16 191.49L545.07 189.86L547.72 189.76ZM557.43 190.43L558.35 192.92L561 193.02L558.91 194.66L559.64 197.21L557.43 195.73L555.23 197.21L555.95 194.66L553.87 193.02L556.52 192.92ZM566.23 193.32L567.14 195.82L569.79 195.92L567.71 197.55L568.43 200.11L566.23 198.63L564.02 200.11L564.75 197.55L562.66 195.92L565.31 195.82ZM575.02 195.98L575.94 198.47L578.59 198.57L576.5 200.21L577.23 202.77L575.02 201.29L572.82 202.77L573.54 200.21L571.46 198.57L574.11 198.47ZM583.82 198.43L584.73 200.92L587.39 201.02L585.3 202.66L586.02 205.21L583.82 203.73L581.62 205.21L582.34 202.66L580.25 201.02L582.91 200.92ZM592.62 200.62L593.53 203.11L596.18 203.21L594.1 204.85L594.82 207.4L592.62 205.93L590.41 207.4L591.14 204.85L589.05 203.21L591.7 203.11ZM601.41 202.63L602.33 205.13L604.98 205.23L602.89 206.87L603.62 209.42L601.41 207.94L599.21 209.42L599.93 206.87L597.85 205.23L600.5 205.13ZM610.21 204.48L611.12 206.97L613.77 207.07L611.69 208.71L612.41 211.27L610.21 209.79L608 211.27L608.73 208.71L606.64 207.07L609.29 206.97ZM619 206.18L619.92 208.67L622.57 208.77L620.48 210.41L621.21 212.96L619 211.48L616.8 212.96L617.52 210.41L615.44 208.77L618.09 208.67ZM627.8 207.73L628.71 210.22L631.37 210.32L629.28 211.96L630 214.52L627.8 213.04L625.6 214.52L626.32 211.96L624.23 210.32L626.89 210.22ZM636.6 209.16L637.51 211.65L640.16 211.75L638.08 213.39L638.8 215.94L636.6 214.47L634.39 215.94L635.12 213.39L633.03 211.75L635.68 211.65ZM645.39 210.47L646.31 212.96L648.96 213.06L646.87 214.7L647.6 217.25L645.39 215.77L643.19 217.25L643.91 214.7L641.83 213.06L644.48 212.96ZM654.19 211.67L655.1 214.16L657.75 214.26L655.67 215.9L656.39 218.45L654.19 216.98L651.98 218.45L652.71 215.9L650.62 214.26L653.27 214.16ZM662.98 212.77L663.9 215.26L666.55 215.36L664.46 217L665.19 219.56L662.98 218.08L660.78 219.56L661.5 217L659.42 215.36L662.07 215.26ZM671.78 213.78L672.69 216.27L675.35 216.37L673.26 218.01L673.98 220.57L671.78 219.09L669.58 220.57L670.3 218.01L668.21 216.37L670.87 216.27ZM680.58 214.71L681.49 217.2L684.14 217.3L682.06 218.94L682.78 221.49L680.58 220.01L678.37 221.49L679.1 218.94L677.01 217.3L679.66 217.2ZM689.37 215.56L690.29 218.05L692.94 218.15L690.85 219.79L691.58 222.34L689.37 220.86L687.17 222.34L687.89 219.79L685.81 218.15L688.46 218.05ZM698.17 216.34L699.08 218.83L701.73 218.93L699.65 220.57L700.37 223.12L698.17 221.64L695.96 223.12L696.69 220.57L694.6 218.93L697.25 218.83ZM701.1 216.58L702.01 219.07L704.67 219.17L702.58 220.81L703.3 223.36L701.1 221.89L698.9 223.36L699.62 220.81L697.53 219.17L700.19 219.07ZM407.9 42.94L408.81 45.43L411.47 45.53L409.38 47.17L410.1 49.73L407.9 48.25L405.7 49.73L406.42 47.17L404.33 45.53L406.99 45.43ZM416.7 61.52L417.61 64.01L420.26 64.11L418.18 65.75L418.9 68.3L416.7 66.83L414.49 68.3L415.22 65.75L413.13 64.11L415.78 64.01ZM425.49 79.06L426.41 81.55L429.06 81.65L426.97 83.29L427.7 85.85L425.49 84.37L423.29 85.85L424.01 83.29L421.93 81.65L424.58 81.55ZM434.29 95.27L435.2 97.76L437.85 97.86L435.77 99.5L436.49 102.05L434.29 100.58L432.08 102.05L432.81 99.5L430.72 97.86L433.37 97.76ZM443.08 110.02L444 112.51L446.65 112.61L444.56 114.25L445.29 116.8L443.08 115.33L440.88 116.8L441.6 114.25L439.52 112.61L442.17 112.51ZM451.88 123.31L452.79 125.8L455.45 125.9L453.36 127.54L454.08 130.09L451.88 128.61L449.68 130.09L450.4 127.54L448.31 125.9L450.97 125.8ZM460.68 135.55L461.59 138.04L464.24 138.14L462.16 139.78L462.88 142.33L460.68 140.85L458.47 142.33L459.2 139.78L457.11 138.14L459.76 138.04ZM469.47 146.48L470.39 148.97L473.04 149.07L470.95 150.71L471.68 153.26L469.47 151.78L467.27 153.26L467.99 150.71L465.91 149.07L468.56 148.97ZM478.27 156.09L479.18 158.58L481.83 158.68L479.75 160.32L480.47 162.88L478.27 161.4L476.06 162.88L476.79 160.32L474.7 158.68L477.35 158.58ZM487.06 164.39L487.98 166.88L490.63 166.98L488.54 168.62L489.27 171.17L487.06 169.69L484.86 171.17L485.58 168.62L483.5 166.98L486.15 166.88ZM495.86 171.72L496.77 174.21L499.43 174.31L497.34 175.95L498.06 178.5L495.86 177.02L493.66 178.5L494.38 175.95L492.29 174.31L494.95 174.21ZM504.66 178.2L505.57 180.69L508.22 180.79L506.14 182.43L506.86 184.98L504.66 183.5L502.45 184.98L503.18 182.43L501.09 180.79L503.74 180.69ZM513.45 183.93L514.37 186.42L517.02 186.52L514.93 188.16L515.66 190.71L513.45 189.23L511.25 190.71L511.97 188.16L509.89 186.52L512.54 186.42ZM522.25 189.08L523.16 191.57L525.81 191.67L523.73 193.31L524.45 195.86L522.25 194.38L520.04 195.86L520.77 193.31L518.68 191.67L521.33 191.57ZM531.04 193.65L531.96 196.14L534.61 196.24L532.52 197.88L533.25 200.44L531.04 198.96L528.84 200.44L529.56 197.88L527.48 196.24L530.13 196.14ZM539.84 197.72L540.75 200.21L543.41 200.31L541.32 201.95L542.04 204.51L539.84 203.03L537.64 204.51L538.36 201.95L536.27 200.31L538.93 200.21ZM548.64 201.36L549.55 203.85L552.2 203.95L550.12 205.59L550.84 208.14L548.64 206.66L546.43 208.14L547.16 205.59L545.07 203.95L547.72 203.85ZM557.43 204.6L558.35 207.09L561 207.19L558.91 208.83L559.64 211.39L557.43 209.91L555.23 211.39L555.95 208.83L553.87 207.19L556.52 207.09ZM566.23 207.5L567.14 209.99L569.79 210.09L567.71 211.73L568.43 214.28L566.23 212.8L564.02 214.28L564.75 211.73L562.66 210.09L565.31 209.99ZM575.02 210.11L575.94 212.6L578.59 212.7L576.5 214.34L577.23 216.89L575.02 215.41L572.82 216.89L573.54 214.34L571.46 212.7L574.11 212.6ZM583.82 212.47L584.73 214.96L587.39 215.06L585.3 216.7L586.02 219.25L583.82 217.77L581.62 219.25L582.34 216.7L580.25 215.06L582.91 214.96ZM592.62 214.41L593.53 216.9L596.18 217L594.1 218.64L594.82 221.19L592.62 219.72L590.41 221.19L591.14 218.64L589.05 217L591.7 216.9ZM601.41 216.17L602.33 218.66L604.98 218.76L602.89 220.4L603.62 222.95L601.41 221.47L599.21 222.95L599.93 220.4L597.85 218.76L600.5 218.66ZM610.21 217.76L611.12 220.25L613.77 220.35L611.69 221.99L612.41 224.54L610.21 223.06L608 224.54L608.73 221.99L606.64 220.35L609.29 220.25ZM619 219.21L619.92 221.7L622.57 221.8L620.48 223.44L621.21 225.99L619 224.52L616.8 225.99L617.52 223.44L615.44 221.8L618.09 221.7ZM627.8 220.54L628.71 223.03L631.37 223.13L629.28 224.77L630 227.32L627.8 225.85L625.6 227.32L626.32 224.77L624.23 223.13L626.89 223.03ZM636.6 221.76L637.51 224.26L640.16 224.36L638.08 226L638.8 228.55L636.6 227.07L634.39 228.55L635.12 226L633.03 224.36L635.68 224.26ZM645.39 222.92L646.31 225.41L648.96 225.51L646.87 227.15L647.6 229.7L645.39 228.22L643.19 229.7L643.91 227.15L641.83 225.51L644.48 225.41ZM654.19 224.03L655.1 226.52L657.75 226.62L655.67 228.26L656.39 230.81L654.19 229.33L651.98 230.81L652.71 228.26L650.62 226.62L653.27 226.52ZM662.98 225.07L663.9 227.56L666.55 227.66L664.46 229.3L665.19 231.86L662.98 230.38L660.78 231.86L661.5 229.3L659.42 227.66L662.07 227.56ZM671.78 226.06L672.69 228.55L675.35 228.65L673.26 230.29L673.98 232.84L671.78 231.36L669.58 232.84L670.3 230.29L668.21 228.65L670.87 228.55ZM680.58 226.99L681.49 229.48L684.14 229.58L682.06 231.22L682.78 233.77L680.58 232.29L678.37 233.77L679.1 231.22L677.01 229.58L679.66 229.48ZM689.37 227.88L690.29 230.37L692.94 230.47L690.85 232.11L691.58 234.66L689.37 233.18L687.17 234.66L687.89 232.11L685.81 230.47L688.46 230.37ZM698.17 228.73L699.08 231.22L701.73 231.32L699.65 232.96L700.37 235.51L698.17 234.03L695.96 235.51L696.69 232.96L694.6 231.32L697.25 231.22ZM701.1 229L702.01 231.49L704.67 231.59L702.58 233.23L703.3 235.78L701.1 234.31L698.9 235.78L699.62 233.23L697.53 231.59L700.19 231.49Z"/>
</g>
<g id="curves-c" filter="url(#bl2)">
<clipPath id="clip-c"><rect x="35.1" y="310" width="303.3" height="247"/></clipPath>
<path class="m" style="stroke-width:3.8;stroke-dasharray:2.3 1.8" d="M43.1 318 L51.94 339.26 L60.78 352.81 L69.62 366.78 L78.46 379.45 L87.31 390.64 L96.15 400.49 L104.99 409.17 L113.83 416.8 L122.67 423.52 L131.51 429.43 L140.35 434.63 L149.19 439.21 L158.03 443.24 L166.87 446.79 L175.72 449.91 L184.56 452.65 L193.4 455.07 L202.24 457.2 L211.08 459.07 L219.92 460.71 L228.76 462.16 L237.6 463.44 L246.44 464.56 L255.28 465.55 L264.12 466.42 L272.97 467.19 L281.81 467.86 L290.65 468.45 L299.49 468.97 L308.33 469.43 L317.17 469.84 L326.01 470.19 L334.85 470.5 L337.8 470.6"/>
<path class="b" style="stroke-width:4.1;stroke-dasharray:9.3 7.6" d="M43.1 318 L51.94 345.13 L60.78 368.52 L69.62 388.66 L78.46 405.98 L87.31 420.86 L96.15 433.63 L104.99 444.58 L113.83 453.97 L122.67 462.01 L131.51 468.9 L140.35 474.81 L149.19 479.87 L158.03 484.21 L166.87 487.93 L175.72 491.13 L184.56 493.87 L193.4 496.24 L202.24 498.28 L211.08 500.04 L219.92 501.56 L228.76 502.88 L237.6 504.03 L246.44 505.03 L255.28 505.91 L264.12 506.68 L272.97 507.36 L281.81 507.96 L290.65 508.49 L299.49 508.96 L308.33 509.39 L317.17 509.77 L326.01 510.12 L334.85 510.43 L337.8 510.53"/>
<path class="g" style="stroke-width:3.5;stroke-dasharray:none" d="M43.1 318 L51.94 460.16 L60.78 517.11 L69.62 537.15 L78.46 544.6 L87.31 547.36 L96.15 548.39 L104.99 548.77 L113.83 548.92 L122.67 548.97 L131.51 548.99 L140.35 549 L149.19 549 L158.03 549 L166.87 549 L175.72 549 L184.56 549 L193.4 549 L202.24 549 L211.08 549 L219.92 549 L228.76 549 L237.6 549 L246.44 549 L255.28 549 L264.12 549 L272.97 549 L281.81 549 L290.65 549 L299.49 549 L308.33 549 L317.17 549 L326.01 549 L334.85 549 L337.8 549"/>
</g>
<g id="plot-c" filter="url(#bl)">
<rect class="ax" x="43.1" y="318" width="294.7" height="231"/>
<path class="ax" d="M102.04 549v-2.7M102.04 318v2.7M160.98 549v-2.7M160.98 318v2.7M219.92 549v-2.7M219.92 318v2.7M278.86 549v-2.7M278.86 318v2.7M43.1 502.8h2.7M337.8 502.8h-2.7M43.1 456.6h2.7M337.8 456.6h-2.7M43.1 410.4h2.7M337.8 410.4h-2.7M43.1 364.2h2.7M337.8 364.2h-2.7"/>
<text class="tk" x="42.3" y="568.8" text-anchor="middle">0</text>
<text class="tk" x="101.24" y="568.8" text-anchor="middle">2</text>
<text class="tk" x="160.18" y="568.8" text-anchor="middle">4</text>
<text class="tk" x="219.12" y="568.8" text-anchor="middle">6</text>
<text class="tk" x="278.06" y="568.8" text-anchor="middle">8</text>
<text class="tk" x="337" y="568.8" text-anchor="middle">10</text>
<text class="tk" x="35.5" y="555" text-anchor="end">0</text>
<text class="tk" x="35.5" y="508.8" text-anchor="end">2</text>
<text class="tk" x="35.5" y="462.6" text-anchor="end">4</text>
<text class="tk" x="35.5" y="416.4" text-anchor="end">6</text>
<text class="tk" x="35.5" y="370.2" text-anchor="end">8</text>
<text class="tk" x="35.5" y="324" text-anchor="end">10</text>
<text class="lb" x="189.95" y="591" text-anchor="middle">Inputs t</text>
<text class="lb" transform="translate(12.6 433.5) rotate(-90)" text-anchor="middle">Y(t)</text>
<text class="cb" x="127.6" y="612.5">(c)</text>
<text class="cr" x="166.9" y="612.5">Scenario 3</text>
</g>
<g id="stars-c" filter="url(#bl2)">
<path class="st" clip-path="url(#clip-c)" d="M43.1 313.4L44.08 316.06L46.9 316.16L44.68 317.91L45.45 320.64L43.1 319.06L40.75 320.64L41.52 317.91L39.3 316.16L42.12 316.06ZM51.94 334.66L52.92 337.31L55.75 337.42L53.52 339.17L54.29 341.89L51.94 340.32L49.59 341.89L50.36 339.17L48.14 337.42L50.97 337.31ZM60.78 348.21L61.76 350.87L64.59 350.98L62.36 352.73L63.13 355.45L60.78 353.87L58.43 355.45L59.2 352.73L56.98 350.98L59.81 350.87ZM69.62 362.18L70.6 364.84L73.43 364.95L71.2 366.7L71.97 369.42L69.62 367.84L67.27 369.42L68.04 366.7L65.82 364.95L68.65 364.84ZM78.46 374.85L79.44 377.5L82.27 377.61L80.04 379.36L80.82 382.08L78.46 380.51L76.11 382.08L76.89 379.36L74.66 377.61L77.49 377.5ZM87.31 386.04L88.28 388.7L91.11 388.8L88.88 390.55L89.66 393.28L87.31 391.7L84.95 393.28L85.73 390.55L83.5 388.8L86.33 388.7ZM96.15 395.89L97.12 398.55L99.95 398.66L97.72 400.41L98.5 403.13L96.15 401.55L93.79 403.13L94.57 400.41L92.34 398.66L95.17 398.55ZM104.99 404.57L105.96 407.22L108.79 407.33L106.57 409.08L107.34 411.8L104.99 410.23L102.64 411.8L103.41 409.08L101.18 407.33L104.01 407.22ZM113.83 412.2L114.8 414.86L117.63 414.96L115.41 416.71L116.18 419.44L113.83 417.86L111.48 419.44L112.25 416.71L110.02 414.96L112.85 414.86ZM122.67 418.92L123.64 421.57L126.47 421.68L124.25 423.43L125.02 426.15L122.67 424.58L120.32 426.15L121.09 423.43L118.86 421.68L121.69 421.57ZM131.51 424.83L132.49 427.49L135.31 427.59L133.09 429.34L133.86 432.07L131.51 430.49L129.16 432.07L129.93 429.34L127.71 427.59L130.53 427.49ZM140.35 430.03L141.33 432.69L144.16 432.8L141.93 434.54L142.7 437.27L140.35 435.69L138 437.27L138.77 434.54L136.55 432.8L139.38 432.69ZM149.19 434.61L150.17 437.27L153 437.37L150.77 439.12L151.54 441.85L149.19 440.27L146.84 441.85L147.61 439.12L145.39 437.37L148.22 437.27ZM158.03 438.64L159.01 441.3L161.84 441.4L159.61 443.15L160.38 445.88L158.03 444.3L155.68 445.88L156.45 443.15L154.23 441.4L157.06 441.3ZM166.87 442.19L167.85 444.84L170.68 444.95L168.45 446.7L169.23 449.42L166.87 447.85L164.52 449.42L165.3 446.7L163.07 444.95L165.9 444.84ZM175.72 445.31L176.69 447.96L179.52 448.07L177.29 449.82L178.07 452.54L175.72 450.97L173.36 452.54L174.14 449.82L171.91 448.07L174.74 447.96ZM184.56 448.05L185.53 450.71L188.36 450.82L186.13 452.56L186.91 455.29L184.56 453.71L182.2 455.29L182.98 452.56L180.75 450.82L183.58 450.71ZM193.4 450.47L194.37 453.13L197.2 453.23L194.98 454.98L195.75 457.7L193.4 456.13L191.05 457.7L191.82 454.98L189.59 453.23L192.42 453.13ZM202.24 452.6L203.21 455.25L206.04 455.36L203.82 457.11L204.59 459.83L202.24 458.26L199.89 459.83L200.66 457.11L198.43 455.36L201.26 455.25ZM211.08 454.47L212.05 457.12L214.88 457.23L212.66 458.98L213.43 461.7L211.08 460.13L208.73 461.7L209.5 458.98L207.27 457.23L210.1 457.12ZM219.92 456.11L220.9 458.77L223.72 458.88L221.5 460.63L222.27 463.35L219.92 461.77L217.57 463.35L218.34 460.63L216.12 458.88L218.94 458.77ZM228.76 457.56L229.74 460.22L232.57 460.33L230.34 462.08L231.11 464.8L228.76 463.22L226.41 464.8L227.18 462.08L224.96 460.33L227.79 460.22ZM237.6 458.84L238.58 461.5L241.41 461.6L239.18 463.35L239.95 466.08L237.6 464.5L235.25 466.08L236.02 463.35L233.8 461.6L236.63 461.5ZM246.44 459.96L247.42 462.62L250.25 462.73L248.02 464.48L248.79 467.2L246.44 465.62L244.09 467.2L244.86 464.48L242.64 462.73L245.47 462.62ZM255.28 460.95L256.26 463.61L259.09 463.71L256.86 465.46L257.64 468.19L255.28 466.61L252.93 468.19L253.71 465.46L251.48 463.71L254.31 463.61ZM264.12 461.82L265.1 464.48L267.93 464.58L265.7 466.33L266.48 469.06L264.12 467.48L261.77 469.06L262.55 466.33L260.32 464.58L263.15 464.48ZM272.97 462.59L273.94 465.24L276.77 465.35L274.54 467.1L275.32 469.82L272.97 468.25L270.61 469.82L271.39 467.1L269.16 465.35L271.99 465.24ZM281.81 463.26L282.78 465.92L285.61 466.02L283.39 467.77L284.16 470.49L281.81 468.92L279.46 470.49L280.23 467.77L278 466.02L280.83 465.92ZM290.65 463.85L291.62 466.51L294.45 466.62L292.23 468.36L293 471.09L290.65 469.51L288.3 471.09L289.07 468.36L286.84 466.62L289.67 466.51ZM299.49 464.37L300.46 467.03L303.29 467.14L301.07 468.89L301.84 471.61L299.49 470.03L297.14 471.61L297.91 468.89L295.68 467.14L298.51 467.03ZM308.33 464.83L309.31 467.49L312.13 467.6L309.91 469.34L310.68 472.07L308.33 470.49L305.98 472.07L306.75 469.34L304.53 467.6L307.35 467.49ZM317.17 465.24L318.15 467.89L320.98 468L318.75 469.75L319.52 472.47L317.17 470.9L314.82 472.47L315.59 469.75L313.37 468L316.2 467.89ZM326.01 465.59L326.99 468.25L329.82 468.36L327.59 470.1L328.36 472.83L326.01 471.25L323.66 472.83L324.43 470.1L322.21 468.36L325.04 468.25ZM334.85 465.9L335.83 468.56L338.66 468.67L336.43 470.42L337.2 473.14L334.85 471.56L332.5 473.14L333.27 470.42L331.05 468.67L333.88 468.56ZM337.8 466L338.78 468.66L341.6 468.76L339.38 470.51L340.15 473.24L337.8 471.66L335.45 473.24L336.22 470.51L334 468.76L336.82 468.66ZM43.1 313.4L44.08 316.06L46.9 316.16L44.68 317.91L45.45 320.64L43.1 319.06L40.75 320.64L41.52 317.91L39.3 316.16L42.12 316.06ZM51.94 340.53L52.92 343.19L55.75 343.29L53.52 345.04L54.29 347.77L51.94 346.19L49.59 347.77L50.36 345.04L48.14 343.29L50.97 343.19ZM60.78 363.92L61.76 366.58L64.59 366.69L62.36 368.44L63.13 371.16L60.78 369.58L58.43 371.16L59.2 368.44L56.98 366.69L59.81 366.58ZM69.62 384.06L70.6 386.72L73.43 386.83L71.2 388.58L71.97 391.3L69.62 389.72L67.27 391.3L68.04 388.58L65.82 386.83L68.65 386.72ZM78.46 401.38L79.44 404.04L82.27 404.15L80.04 405.9L80.82 408.62L78.46 407.04L76.11 408.62L76.89 405.9L74.66 404.15L77.49 404.04ZM87.31 416.26L88.28 418.92L91.11 419.03L88.88 420.77L89.66 423.5L87.31 421.92L84.95 423.5L85.73 420.77L83.5 419.03L86.33 418.92ZM96.15 429.03L97.12 431.69L99.95 431.79L97.72 433.54L98.5 436.27L96.15 434.69L93.79 436.27L94.57 433.54L92.34 431.79L95.17 431.69ZM104.99 439.98L105.96 442.64L108.79 442.74L106.57 444.49L107.34 447.22L104.99 445.64L102.64 447.22L103.41 444.49L101.18 442.74L104.01 442.64ZM113.83 449.37L114.8 452.03L117.63 452.13L115.41 453.88L116.18 456.6L113.83 455.03L111.48 456.6L112.25 453.88L110.02 452.13L112.85 452.03ZM122.67 457.41L123.64 460.07L126.47 460.18L124.25 461.93L125.02 464.65L122.67 463.07L120.32 464.65L121.09 461.93L118.86 460.18L121.69 460.07ZM131.51 464.3L132.49 466.96L135.31 467.07L133.09 468.82L133.86 471.54L131.51 469.96L129.16 471.54L129.93 468.82L127.71 467.07L130.53 466.96ZM140.35 470.21L141.33 472.87L144.16 472.97L141.93 474.72L142.7 477.45L140.35 475.87L138 477.45L138.77 474.72L136.55 472.97L139.38 472.87ZM149.19 475.27L150.17 477.93L153 478.03L150.77 479.78L151.54 482.51L149.19 480.93L146.84 482.51L147.61 479.78L145.39 478.03L148.22 477.93ZM158.03 479.61L159.01 482.27L161.84 482.37L159.61 484.12L160.38 486.84L158.03 485.27L155.68 486.84L156.45 484.12L154.23 482.37L157.06 482.27ZM166.87 483.33L167.85 485.99L170.68 486.09L168.45 487.84L169.23 490.57L166.87 488.99L164.52 490.57L165.3 487.84L163.07 486.09L165.9 485.99ZM175.72 486.53L176.69 489.18L179.52 489.29L177.29 491.04L178.07 493.76L175.72 492.19L173.36 493.76L174.14 491.04L171.91 489.29L174.74 489.18ZM184.56 489.27L185.53 491.93L188.36 492.04L186.13 493.79L186.91 496.51L184.56 494.93L182.2 496.51L182.98 493.79L180.75 492.04L183.58 491.93ZM193.4 491.64L194.37 494.3L197.2 494.4L194.98 496.15L195.75 498.87L193.4 497.3L191.05 498.87L191.82 496.15L189.59 494.4L192.42 494.3ZM202.24 493.68L203.21 496.33L206.04 496.44L203.82 498.19L204.59 500.91L202.24 499.34L199.89 500.91L200.66 498.19L198.43 496.44L201.26 496.33ZM211.08 495.44L212.05 498.09L214.88 498.2L212.66 499.95L213.43 502.67L211.08 501.1L208.73 502.67L209.5 499.95L207.27 498.2L210.1 498.09ZM219.92 496.96L220.9 499.62L223.72 499.72L221.5 501.47L222.27 504.2L219.92 502.62L217.57 504.2L218.34 501.47L216.12 499.72L218.94 499.62ZM228.76 498.28L229.74 500.94L232.57 501.04L230.34 502.79L231.11 505.52L228.76 503.94L226.41 505.52L227.18 502.79L224.96 501.04L227.79 500.94ZM237.6 499.43L238.58 502.09L241.41 502.19L239.18 503.94L239.95 506.67L237.6 505.09L235.25 506.67L236.02 503.94L233.8 502.19L236.63 502.09ZM246.44 500.43L247.42 503.09L250.25 503.2L248.02 504.94L248.79 507.67L246.44 506.09L244.09 507.67L244.86 504.94L242.64 503.2L245.47 503.09ZM255.28 501.31L256.26 503.97L259.09 504.07L256.86 505.82L257.64 508.54L255.28 506.97L252.93 508.54L253.71 505.82L251.48 504.07L254.31 503.97ZM264.12 502.08L265.1 504.74L267.93 504.84L265.7 506.59L266.48 509.31L264.12 507.74L261.77 509.31L262.55 506.59L260.32 504.84L263.15 504.74ZM272.97 502.76L273.94 505.41L276.77 505.52L274.54 507.27L275.32 509.99L272.97 508.42L270.61 509.99L271.39 507.27L269.16 505.52L271.99 505.41ZM281.81 503.36L282.78 506.01L285.61 506.12L283.39 507.87L284.16 510.59L281.81 509.02L279.46 510.59L280.23 507.87L278 506.12L280.83 506.01ZM290.65 503.89L291.62 506.55L294.45 506.65L292.23 508.4L293 511.12L290.65 509.55L288.3 511.12L289.07 508.4L286.84 506.65L289.67 506.55ZM299.49 504.36L300.46 507.02L303.29 507.13L301.07 508.88L301.84 511.6L299.49 510.02L297.14 511.6L297.91 508.88L295.68 507.13L298.51 507.02ZM308.33 504.79L309.31 507.45L312.13 507.55L309.91 509.3L310.68 512.02L308.33 510.45L305.98 512.02L306.75 509.3L304.53 507.55L307.35 507.45ZM317.17 505.17L318.15 507.83L320.98 507.93L318.75 509.68L319.52 512.41L317.17 510.83L314.82 512.41L315.59 509.68L313.37 507.93L316.2 507.83ZM326.01 505.52L326.99 508.17L329.82 508.28L327.59 510.03L328.36 512.75L326.01 511.18L323.66 512.75L324.43 510.03L322.21 508.28L325.04 508.17ZM334.85 505.83L335.83 508.49L338.66 508.59L336.43 510.34L337.2 513.07L334.85 511.49L332.5 513.07L333.27 510.34L331.05 508.59L333.88 508.49ZM337.8 505.93L338.78 508.58L341.6 508.69L339.38 510.44L340.15 513.16L337.8 511.59L335.45 513.16L336.22 510.44L334 508.69L336.82 508.58ZM43.1 313.4L44.08 316.06L46.9 316.16L44.68 317.91L45.45 320.64L43.1 319.06L40.75 320.64L41.52 317.91L39.3 316.16L42.12 316.06ZM51.94 455.56L52.92 458.22L55.75 458.33L53.52 460.08L54.29 462.8L51.94 461.22L49.59 462.8L50.36 460.08L48.14 458.33L50.97 458.22ZM60.78 512.51L61.76 515.16L64.59 515.27L62.36 517.02L63.13 519.74L60.78 518.17L58.43 519.74L59.2 517.02L56.98 515.27L59.81 515.16ZM69.62 532.55L70.6 535.21L73.43 535.31L71.2 537.06L71.97 539.79L69.62 538.21L67.27 539.79L68.04 537.06L65.82 535.31L68.65 535.21ZM78.46 540L79.44 542.65L82.27 542.76L80.04 544.51L80.82 547.23L78.46 545.66L76.11 547.23L76.89 544.51L74.66 542.76L77.49 542.65ZM87.31 542.76L88.28 545.42L91.11 545.53L88.88 547.28L89.66 550L87.31 548.42L84.95 550L85.73 547.28L83.5 545.53L86.33 545.42ZM96.15 543.79L97.12 546.45L99.95 546.56L97.72 548.3L98.5 551.03L96.15 549.45L93.79 551.03L94.57 548.3L92.34 546.56L95.17 546.45ZM104.99 544.17L105.96 546.83L108.79 546.94L106.57 548.69L107.34 551.41L104.99 549.83L102.64 551.41L103.41 548.69L101.18 546.94L104.01 546.83ZM113.83 544.32L114.8 546.97L117.63 547.08L115.41 548.83L116.18 551.55L113.83 549.98L111.48 551.55L112.25 548.83L110.02 547.08L112.85 546.97ZM122.67 544.37L123.64 547.03L126.47 547.13L124.25 548.88L125.02 551.6L122.67 550.03L120.32 551.6L121.09 548.88L118.86 547.13L121.69 547.03ZM131.51 544.39L132.49 547.05L135.31 547.15L133.09 548.9L133.86 551.62L131.51 550.05L129.16 551.62L129.93 548.9L127.71 547.15L130.53 547.05ZM140.35 544.4L141.33 547.05L144.16 547.16L141.93 548.91L142.7 551.63L140.35 550.06L138 551.63L138.77 548.91L136.55 547.16L139.38 547.05ZM149.19 544.4L150.17 547.06L153 547.16L150.77 548.91L151.54 551.63L149.19 550.06L146.84 551.63L147.61 548.91L145.39 547.16L148.22 547.06ZM158.03 544.4L159.01 547.06L161.84 547.16L159.61 548.91L160.38 551.64L158.03 550.06L155.68 551.64L156.45 548.91L154.23 547.16L157.06 547.06ZM166.87 544.4L167.85 547.06L170.68 547.16L168.45 548.91L169.23 551.64L166.87 550.06L164.52 551.64L165.3 548.91L163.07 547.16L165.9 547.06ZM175.72 544.4L176.69 547.06L179.52 547.16L177.29 548.91L178.07 551.64L175.72 550.06L173.36 551.64L174.14 548.91L171.91 547.16L174.74 547.06ZM184.56 544.4L185.53 547.06L188.36 547.16L186.13 548.91L186.91 551.64L184.56 550.06L182.2 551.64L182.98 548.91L180.75 547.16L183.58 547.06ZM193.4 544.4L194.37 547.06L197.2 547.16L194.98 548.91L195.75 551.64L193.4 550.06L191.05 551.64L191.82 548.91L189.59 547.16L192.42 547.06ZM202.24 544.4L203.21 547.06L206.04 547.16L203.82 548.91L204.59 551.64L202.24 550.06L199.89 551.64L200.66 548.91L198.43 547.16L201.26 547.06ZM211.08 544.4L212.05 547.06L214.88 547.16L212.66 548.91L213.43 551.64L211.08 550.06L208.73 551.64L209.5 548.91L207.27 547.16L210.1 547.06ZM219.92 544.4L220.9 547.06L223.72 547.16L221.5 548.91L222.27 551.64L219.92 550.06L217.57 551.64L218.34 548.91L216.12 547.16L218.94 547.06ZM228.76 544.4L229.74 547.06L232.57 547.16L230.34 548.91L231.11 551.64L228.76 550.06L226.41 551.64L227.18 548.91L224.96 547.16L227.79 547.06ZM237.6 544.4L238.58 547.06L241.41 547.16L239.18 548.91L239.95 551.64L237.6 550.06L235.25 551.64L236.02 548.91L233.8 547.16L236.63 547.06ZM246.44 544.4L247.42 547.06L250.25 547.16L248.02 548.91L248.79 551.64L246.44 550.06L244.09 551.64L244.86 548.91L242.64 547.16L245.47 547.06ZM255.28 544.4L256.26 547.06L259.09 547.16L256.86 548.91L257.64 551.64L255.28 550.06L252.93 551.64L253.71 548.91L251.48 547.16L254.31 547.06ZM264.12 544.4L265.1 547.06L267.93 547.16L265.7 548.91L266.48 551.64L264.12 550.06L261.77 551.64L262.55 548.91L260.32 547.16L263.15 547.06ZM272.97 544.4L273.94 547.06L276.77 547.16L274.54 548.91L275.32 551.64L272.97 550.06L270.61 551.64L271.39 548.91L269.16 547.16L271.99 547.06ZM281.81 544.4L282.78 547.06L285.61 547.16L283.39 548.91L284.16 551.64L281.81 550.06L279.46 551.64L280.23 548.91L278 547.16L280.83 547.06ZM290.65 544.4L291.62 547.06L294.45 547.16L292.23 548.91L293 551.64L290.65 550.06L288.3 551.64L289.07 548.91L286.84 547.16L289.67 547.06ZM299.49 544.4L300.46 547.06L303.29 547.16L301.07 548.91L301.84 551.64L299.49 550.06L297.14 551.64L297.91 548.91L295.68 547.16L298.51 547.06ZM308.33 544.4L309.31 547.06L312.13 547.16L309.91 548.91L310.68 551.64L308.33 550.06L305.98 551.64L306.75 548.91L304.53 547.16L307.35 547.06ZM317.17 544.4L318.15 547.06L320.98 547.16L318.75 548.91L319.52 551.64L317.17 550.06L314.82 551.64L315.59 548.91L313.37 547.16L316.2 547.06ZM326.01 544.4L326.99 547.06L329.82 547.16L327.59 548.91L328.36 551.64L326.01 550.06L323.66 551.64L324.43 548.91L322.21 547.16L325.04 547.06ZM334.85 544.4L335.83 547.06L338.66 547.16L336.43 548.91L337.2 551.64L334.85 550.06L332.5 551.64L333.27 548.91L331.05 547.16L333.88 547.06ZM337.8 544.4L338.78 547.06L341.6 547.16L339.38 548.91L340.15 551.64L337.8 550.06L335.45 551.64L336.22 548.91L334 547.16L336.82 547.06Z"/>
</g>
<g id="curves-d" filter="url(#bl2)">
<clipPath id="clip-d"><rect x="398" y="307" width="304.4" height="248"/></clipPath>
<path class="m" style="stroke-width:3.8;stroke-dasharray:2.3 1.8" d="M406 315 L414.87 367.11 L423.75 407.12 L432.62 437.81 L441.5 461.34 L450.37 479.38 L459.24 493.21 L468.12 503.82 L476.99 511.97 L485.87 518.25 L494.74 523.1 L503.61 526.86 L512.49 529.79 L521.36 532.09 L530.24 533.91 L539.11 535.36 L547.98 536.52 L556.86 537.47 L565.73 538.26 L574.61 538.91 L583.48 539.46 L592.35 539.93 L601.23 540.33 L610.1 540.68 L618.98 540.99 L627.85 541.26 L636.72 541.5 L645.6 541.71 L654.47 541.9 L663.35 542.07 L672.22 542.22 L681.09 542.36 L689.97 542.48 L698.84 542.59 L701.8 542.62"/>
<path class="b" style="stroke-width:4.1;stroke-dasharray:9.3 7.6" d="M406 315 L414.87 337.97 L423.75 359.09 L432.62 377.35 L441.5 393.13 L450.37 406.79 L459.24 418.59 L468.12 428.81 L476.99 437.65 L485.87 445.3 L494.74 451.93 L503.61 457.67 L512.49 462.65 L521.36 466.98 L530.24 470.73 L539.11 473.99 L547.98 476.82 L556.86 479.29 L565.73 481.44 L574.61 483.32 L583.48 484.96 L592.35 486.4 L601.23 487.66 L610.1 488.77 L618.98 489.75 L627.85 490.62 L636.72 491.39 L645.6 492.07 L654.47 492.69 L663.35 493.23 L672.22 493.73 L681.09 494.18 L689.97 494.58 L698.84 494.95 L701.8 495.07"/>
<path class="g" style="stroke-width:3.5;stroke-dasharray:none" d="M406 315 L414.87 387.38 L423.75 437.52 L432.62 471.46 L441.5 494.46 L450.37 510.07 L459.24 520.7 L468.12 527.95 L476.99 532.93 L485.87 536.36 L494.74 538.75 L503.61 540.44 L512.49 541.64 L521.36 542.51 L530.24 543.16 L539.11 543.66 L547.98 544.05 L556.86 544.36 L565.73 544.62 L574.61 544.85 L583.48 545.04 L592.35 545.22 L601.23 545.38 L610.1 545.52 L618.98 545.66 L627.85 545.78 L636.72 545.9 L645.6 546.01 L654.47 546.12 L663.35 546.22 L672.22 546.31 L681.09 546.41 L689.97 546.49 L698.84 546.57 L701.8 546.6"/>
</g>
<g id="plot-d" filter="url(#bl)">
<rect class="ax" x="406" y="315" width="295.8" height="232"/>
<path class="ax" d="M465.16 547v-2.7M465.16 315v2.7M524.32 547v-2.7M524.32 315v2.7M583.48 547v-2.7M583.48 315v2.7M642.64 547v-2.7M642.64 315v2.7M406 500.6h2.7M701.8 500.6h-2.7M406 454.2h2.7M701.8 454.2h-2.7M406 407.8h2.7M701.8 407.8h-2.7M406 361.4h2.7M701.8 361.4h-2.7"/>
<text class="tk" x="405.2" y="566.8" text-anchor="middle">0</text>
<text class="tk" x="464.36" y="566.8" text-anchor="middle">2</text>
<text class="tk" x="523.52" y="566.8" text-anchor="middle">4</text>
<text class="tk" x="582.68" y="566.8" text-anchor="middle">6</text>
<text class="tk" x="641.84" y="566.8" text-anchor="middle">8</text>
<text class="tk" x="701" y="566.8" text-anchor="middle">10</text>
<text class="tk" x="398.4" y="553" text-anchor="end">0</text>
<text class="tk" x="398.4" y="506.6" text-anchor="end">2</text>
<text class="tk" x="398.4" y="460.2" text-anchor="end">4</text>
<text class="tk" x="398.4" y="413.8" text-anchor="end">6</text>
<text class="tk" x="398.4" y="367.4" text-anchor="end">8</text>
<text class="tk" x="398.4" y="321" text-anchor="end">10</text>
<text class="lb" x="553.4" y="589" text-anchor="middle">Inputs t</text>
<text class="lb" transform="translate(375.5 431) rotate(-90)" text-anchor="middle">Y(t)</text>
<text class="cb" x="489.5" y="611.3">(d)</text>
<text class="cr" x="530.5" y="611.3">Scenario 4</text>
</g>
<g id="stars-d" filter="url(#bl2)">
<path class="st" clip-path="url(#clip-d)" d="M406 310.4L406.98 313.06L409.8 313.16L407.58 314.91L408.35 317.64L406 316.06L403.65 317.64L404.42 314.91L402.2 313.16L405.02 313.06ZM414.87 362.51L415.85 365.17L418.68 365.28L416.45 367.03L417.23 369.75L414.87 368.17L412.52 369.75L413.3 367.03L411.07 365.28L413.9 365.17ZM423.75 402.52L424.72 405.18L427.55 405.28L425.33 407.03L426.1 409.76L423.75 408.18L421.4 409.76L422.17 407.03L419.94 405.28L422.77 405.18ZM432.62 433.21L433.6 435.87L436.43 435.97L434.2 437.72L434.97 440.45L432.62 438.87L430.27 440.45L431.04 437.72L428.82 435.97L431.65 435.87ZM441.5 456.74L442.47 459.4L445.3 459.5L443.07 461.25L443.85 463.97L441.5 462.4L439.14 463.97L439.92 461.25L437.69 459.5L440.52 459.4ZM450.37 474.78L451.35 477.43L454.17 477.54L451.95 479.29L452.72 482.01L450.37 480.44L448.02 482.01L448.79 479.29L446.57 477.54L449.39 477.43ZM459.24 488.61L460.22 491.26L463.05 491.37L460.82 493.12L461.6 495.84L459.24 494.27L456.89 495.84L457.67 493.12L455.44 491.37L458.27 491.26ZM468.12 499.22L469.09 501.87L471.92 501.98L469.7 503.73L470.47 506.45L468.12 504.88L465.77 506.45L466.54 503.73L464.31 501.98L467.14 501.87ZM476.99 507.37L477.97 510.03L480.8 510.14L478.57 511.88L479.34 514.61L476.99 513.03L474.64 514.61L475.41 511.88L473.19 510.14L476.02 510.03ZM485.87 513.65L486.84 516.31L489.67 516.41L487.44 518.16L488.22 520.89L485.87 519.31L483.51 520.89L484.29 518.16L482.06 516.41L484.89 516.31ZM494.74 518.5L495.72 521.16L498.54 521.26L496.32 523.01L497.09 525.74L494.74 524.16L492.39 525.74L493.16 523.01L490.94 521.26L493.76 521.16ZM503.61 522.26L504.59 524.92L507.42 525.02L505.19 526.77L505.97 529.5L503.61 527.92L501.26 529.5L502.04 526.77L499.81 525.02L502.64 524.92ZM512.49 525.19L513.46 527.85L516.29 527.95L514.07 529.7L514.84 532.43L512.49 530.85L510.14 532.43L510.91 529.7L508.68 527.95L511.51 527.85ZM521.36 527.49L522.34 530.15L525.17 530.25L522.94 532L523.71 534.72L521.36 533.15L519.01 534.72L519.78 532L517.56 530.25L520.39 530.15ZM530.24 529.31L531.21 531.96L534.04 532.07L531.81 533.82L532.59 536.54L530.24 534.97L527.88 536.54L528.66 533.82L526.43 532.07L529.26 531.96ZM539.11 530.76L540.09 533.41L542.91 533.52L540.69 535.27L541.46 537.99L539.11 536.42L536.76 537.99L537.53 535.27L535.31 533.52L538.13 533.41ZM547.98 531.92L548.96 534.58L551.79 534.69L549.56 536.44L550.34 539.16L547.98 537.58L545.63 539.16L546.41 536.44L544.18 534.69L547.01 534.58ZM556.86 532.87L557.83 535.53L560.66 535.64L558.44 537.39L559.21 540.11L556.86 538.53L554.51 540.11L555.28 537.39L553.05 535.64L555.88 535.53ZM565.73 533.66L566.71 536.31L569.54 536.42L567.31 538.17L568.08 540.89L565.73 539.32L563.38 540.89L564.15 538.17L561.93 536.42L564.76 536.31ZM574.61 534.31L575.58 536.97L578.41 537.07L576.18 538.82L576.96 541.55L574.61 539.97L572.25 541.55L573.03 538.82L570.8 537.07L573.63 536.97ZM583.48 534.86L584.46 537.52L587.28 537.62L585.06 539.37L585.83 542.1L583.48 540.52L581.13 542.1L581.9 539.37L579.68 537.62L582.5 537.52ZM592.35 535.33L593.33 537.99L596.16 538.09L593.93 539.84L594.71 542.56L592.35 540.99L590 542.56L590.78 539.84L588.55 538.09L591.38 537.99ZM601.23 535.73L602.2 538.39L605.03 538.5L602.81 540.24L603.58 542.97L601.23 541.39L598.88 542.97L599.65 540.24L597.42 538.5L600.25 538.39ZM610.1 536.08L611.08 538.74L613.91 538.85L611.68 540.6L612.45 543.32L610.1 541.74L607.75 543.32L608.52 540.6L606.3 538.85L609.13 538.74ZM618.98 536.39L619.95 539.05L622.78 539.15L620.55 540.9L621.33 543.62L618.98 542.05L616.62 543.62L617.4 540.9L615.17 539.15L618 539.05ZM627.85 536.66L628.83 539.32L631.65 539.42L629.43 541.17L630.2 543.9L627.85 542.32L625.5 543.9L626.27 541.17L624.05 539.42L626.87 539.32ZM636.72 536.9L637.7 539.56L640.53 539.66L638.3 541.41L639.08 544.13L636.72 542.56L634.37 544.13L635.15 541.41L632.92 539.66L635.75 539.56ZM645.6 537.11L646.57 539.77L649.4 539.87L647.18 541.62L647.95 544.35L645.6 542.77L643.25 544.35L644.02 541.62L641.79 539.87L644.62 539.77ZM654.47 537.3L655.45 539.96L658.28 540.06L656.05 541.81L656.82 544.54L654.47 542.96L652.12 544.54L652.89 541.81L650.67 540.06L653.5 539.96ZM663.35 537.47L664.32 540.13L667.15 540.23L664.92 541.98L665.7 544.71L663.35 543.13L660.99 544.71L661.77 541.98L659.54 540.23L662.37 540.13ZM672.22 537.62L673.2 540.28L676.02 540.39L673.8 542.13L674.57 544.86L672.22 543.28L669.87 544.86L670.64 542.13L668.42 540.39L671.24 540.28ZM681.09 537.76L682.07 540.41L684.9 540.52L682.67 542.27L683.45 544.99L681.09 543.42L678.74 544.99L679.52 542.27L677.29 540.52L680.12 540.41ZM689.97 537.88L690.94 540.54L693.77 540.64L691.55 542.39L692.32 545.12L689.97 543.54L687.62 545.12L688.39 542.39L686.16 540.64L688.99 540.54ZM698.84 537.99L699.82 540.65L702.65 540.75L700.42 542.5L701.19 545.22L698.84 543.65L696.49 545.22L697.26 542.5L695.04 540.75L697.87 540.65ZM701.8 538.02L702.78 540.68L705.6 540.79L703.38 542.53L704.15 545.26L701.8 543.68L699.45 545.26L700.22 542.53L698 540.79L700.82 540.68ZM406 310.4L406.98 313.06L409.8 313.16L407.58 314.91L408.35 317.64L406 316.06L403.65 317.64L404.42 314.91L402.2 313.16L405.02 313.06ZM414.87 333.37L415.85 336.03L418.68 336.13L416.45 337.88L417.23 340.6L414.87 339.03L412.52 340.6L413.3 337.88L411.07 336.13L413.9 336.03ZM423.75 354.49L424.72 357.15L427.55 357.25L425.33 359L426.1 361.73L423.75 360.15L421.4 361.73L422.17 359L419.94 357.25L422.77 357.15ZM432.62 372.75L433.6 375.41L436.43 375.51L434.2 377.26L434.97 379.98L432.62 378.41L430.27 379.98L431.04 377.26L428.82 375.51L431.65 375.41ZM441.5 388.53L442.47 391.19L445.3 391.3L443.07 393.05L443.85 395.77L441.5 394.19L439.14 395.77L439.92 393.05L437.69 391.3L440.52 391.19ZM450.37 402.19L451.35 404.84L454.17 404.95L451.95 406.7L452.72 409.42L450.37 407.85L448.02 409.42L448.79 406.7L446.57 404.95L449.39 404.84ZM459.24 413.99L460.22 416.65L463.05 416.76L460.82 418.51L461.6 421.23L459.24 419.65L456.89 421.23L457.67 418.51L455.44 416.76L458.27 416.65ZM468.12 424.21L469.09 426.86L471.92 426.97L469.7 428.72L470.47 431.44L468.12 429.87L465.77 431.44L466.54 428.72L464.31 426.97L467.14 426.86ZM476.99 433.05L477.97 435.7L480.8 435.81L478.57 437.56L479.34 440.28L476.99 438.71L474.64 440.28L475.41 437.56L473.19 435.81L476.02 435.7ZM485.87 440.7L486.84 443.36L489.67 443.47L487.44 445.21L488.22 447.94L485.87 446.36L483.51 447.94L484.29 445.21L482.06 443.47L484.89 443.36ZM494.74 447.33L495.72 449.99L498.54 450.09L496.32 451.84L497.09 454.57L494.74 452.99L492.39 454.57L493.16 451.84L490.94 450.09L493.76 449.99ZM503.61 453.07L504.59 455.73L507.42 455.84L505.19 457.59L505.97 460.31L503.61 458.73L501.26 460.31L502.04 457.59L499.81 455.84L502.64 455.73ZM512.49 458.05L513.46 460.71L516.29 460.82L514.07 462.57L514.84 465.29L512.49 463.71L510.14 465.29L510.91 462.57L508.68 460.82L511.51 460.71ZM521.36 462.38L522.34 465.03L525.17 465.14L522.94 466.89L523.71 469.61L521.36 468.04L519.01 469.61L519.78 466.89L517.56 465.14L520.39 465.03ZM530.24 466.13L531.21 468.78L534.04 468.89L531.81 470.64L532.59 473.36L530.24 471.79L527.88 473.36L528.66 470.64L526.43 468.89L529.26 468.78ZM539.11 469.39L540.09 472.04L542.91 472.15L540.69 473.9L541.46 476.62L539.11 475.05L536.76 476.62L537.53 473.9L535.31 472.15L538.13 472.04ZM547.98 472.22L548.96 474.88L551.79 474.99L549.56 476.73L550.34 479.46L547.98 477.88L545.63 479.46L546.41 476.73L544.18 474.99L547.01 474.88ZM556.86 474.69L557.83 477.35L560.66 477.45L558.44 479.2L559.21 481.93L556.86 480.35L554.51 481.93L555.28 479.2L553.05 477.45L555.88 477.35ZM565.73 476.84L566.71 479.5L569.54 479.61L567.31 481.35L568.08 484.08L565.73 482.5L563.38 484.08L564.15 481.35L561.93 479.61L564.76 479.5ZM574.61 478.72L575.58 481.38L578.41 481.48L576.18 483.23L576.96 485.96L574.61 484.38L572.25 485.96L573.03 483.23L570.8 481.48L573.63 481.38ZM583.48 480.36L584.46 483.02L587.28 483.13L585.06 484.88L585.83 487.6L583.48 486.02L581.13 487.6L581.9 484.88L579.68 483.13L582.5 483.02ZM592.35 481.8L593.33 484.46L596.16 484.57L593.93 486.31L594.71 489.04L592.35 487.46L590 489.04L590.78 486.31L588.55 484.57L591.38 484.46ZM601.23 483.06L602.2 485.72L605.03 485.83L602.81 487.58L603.58 490.3L601.23 488.72L598.88 490.3L599.65 487.58L597.42 485.83L600.25 485.72ZM610.1 484.17L611.08 486.83L613.91 486.94L611.68 488.69L612.45 491.41L610.1 489.83L607.75 491.41L608.52 488.69L606.3 486.94L609.13 486.83ZM618.98 485.15L619.95 487.81L622.78 487.92L620.55 489.67L621.33 492.39L618.98 490.81L616.62 492.39L617.4 489.67L615.17 487.92L618 487.81ZM627.85 486.02L628.83 488.68L631.65 488.79L629.43 490.53L630.2 493.26L627.85 491.68L625.5 493.26L626.27 490.53L624.05 488.79L626.87 488.68ZM636.72 486.79L637.7 489.45L640.53 489.55L638.3 491.3L639.08 494.03L636.72 492.45L634.37 494.03L635.15 491.3L632.92 489.55L635.75 489.45ZM645.6 487.47L646.57 490.13L649.4 490.24L647.18 491.99L647.95 494.71L645.6 493.13L643.25 494.71L644.02 491.99L641.79 490.24L644.62 490.13ZM654.47 488.09L655.45 490.74L658.28 490.85L656.05 492.6L656.82 495.32L654.47 493.75L652.12 495.32L652.89 492.6L650.67 490.85L653.5 490.74ZM663.35 488.63L664.32 491.29L667.15 491.4L664.92 493.15L665.7 495.87L663.35 494.29L660.99 495.87L661.77 493.15L659.54 491.4L662.37 491.29ZM672.22 489.13L673.2 491.79L676.02 491.89L673.8 493.64L674.57 496.36L672.22 494.79L669.87 496.36L670.64 493.64L668.42 491.89L671.24 491.79ZM681.09 489.58L682.07 492.23L684.9 492.34L682.67 494.09L683.45 496.81L681.09 495.24L678.74 496.81L679.52 494.09L677.29 492.34L680.12 492.23ZM689.97 489.98L690.94 492.64L693.77 492.75L691.55 494.5L692.32 497.22L689.97 495.64L687.62 497.22L688.39 494.5L686.16 492.75L688.99 492.64ZM698.84 490.35L699.82 493.01L702.65 493.12L700.42 494.87L701.19 497.59L698.84 496.01L696.49 497.59L697.26 494.87L695.04 493.12L697.87 493.01ZM701.8 490.47L702.78 493.13L705.6 493.23L703.38 494.98L704.15 497.71L701.8 496.13L699.45 497.71L700.22 494.98L698 493.23L700.82 493.13ZM406 310.4L406.98 313.06L409.8 313.16L407.58 314.91L408.35 317.64L406 316.06L403.65 317.64L404.42 314.91L402.2 313.16L405.02 313.06ZM414.87 382.78L415.85 385.44L418.68 385.55L416.45 387.3L417.23 390.02L414.87 388.44L412.52 390.02L413.3 387.3L411.07 385.55L413.9 385.44ZM423.75 432.92L424.72 435.58L427.55 435.68L425.33 437.43L426.1 440.16L423.75 438.58L421.4 440.16L422.17 437.43L419.94 435.68L422.77 435.58ZM432.62 466.86L433.6 469.51L436.43 469.62L434.2 471.37L434.97 474.09L432.62 472.52L430.27 474.09L431.04 471.37L428.82 469.62L431.65 469.51ZM441.5 489.86L442.47 492.51L445.3 492.62L443.07 494.37L443.85 497.09L441.5 495.52L439.14 497.09L439.92 494.37L437.69 492.62L440.52 492.51ZM450.37 505.47L451.35 508.13L454.17 508.23L451.95 509.98L452.72 512.71L450.37 511.13L448.02 512.71L448.79 509.98L446.57 508.23L449.39 508.13ZM459.24 516.1L460.22 518.75L463.05 518.86L460.82 520.61L461.6 523.33L459.24 521.76L456.89 523.33L457.67 520.61L455.44 518.86L458.27 518.75ZM468.12 523.35L469.09 526.01L471.92 526.12L469.7 527.87L470.47 530.59L468.12 529.01L465.77 530.59L466.54 527.87L464.31 526.12L467.14 526.01ZM476.99 528.33L477.97 530.99L480.8 531.09L478.57 532.84L479.34 535.57L476.99 533.99L474.64 535.57L475.41 532.84L473.19 531.09L476.02 530.99ZM485.87 531.76L486.84 534.42L489.67 534.53L487.44 536.28L488.22 539L485.87 537.42L483.51 539L484.29 536.28L482.06 534.53L484.89 534.42ZM494.74 534.15L495.72 536.81L498.54 536.92L496.32 538.67L497.09 541.39L494.74 539.81L492.39 541.39L493.16 538.67L490.94 536.92L493.76 536.81ZM503.61 535.84L504.59 538.49L507.42 538.6L505.19 540.35L505.97 543.07L503.61 541.5L501.26 543.07L502.04 540.35L499.81 538.6L502.64 538.49ZM512.49 537.04L513.46 539.7L516.29 539.8L514.07 541.55L514.84 544.28L512.49 542.7L510.14 544.28L510.91 541.55L508.68 539.8L511.51 539.7ZM521.36 537.91L522.34 540.57L525.17 540.68L522.94 542.43L523.71 545.15L521.36 543.57L519.01 545.15L519.78 542.43L517.56 540.68L520.39 540.57ZM530.24 538.56L531.21 541.22L534.04 541.33L531.81 543.08L532.59 545.8L530.24 544.22L527.88 545.8L528.66 543.08L526.43 541.33L529.26 541.22ZM539.11 539.06L540.09 541.72L542.91 541.82L540.69 543.57L541.46 546.29L539.11 544.72L536.76 546.29L537.53 543.57L535.31 541.82L538.13 541.72ZM547.98 539.45L548.96 542.1L551.79 542.21L549.56 543.96L550.34 546.68L547.98 545.11L545.63 546.68L546.41 543.96L544.18 542.21L547.01 542.1ZM556.86 539.76L557.83 542.42L560.66 542.53L558.44 544.27L559.21 547L556.86 545.42L554.51 547L555.28 544.27L553.05 542.53L555.88 542.42ZM565.73 540.02L566.71 542.68L569.54 542.79L567.31 544.54L568.08 547.26L565.73 545.68L563.38 547.26L564.15 544.54L561.93 542.79L564.76 542.68ZM574.61 540.25L575.58 542.9L578.41 543.01L576.18 544.76L576.96 547.48L574.61 545.91L572.25 547.48L573.03 544.76L570.8 543.01L573.63 542.9ZM583.48 540.44L584.46 543.1L587.28 543.21L585.06 544.95L585.83 547.68L583.48 546.1L581.13 547.68L581.9 544.95L579.68 543.21L582.5 543.1ZM592.35 540.62L593.33 543.27L596.16 543.38L593.93 545.13L594.71 547.85L592.35 546.28L590 547.85L590.78 545.13L588.55 543.38L591.38 543.27ZM601.23 540.78L602.2 543.43L605.03 543.54L602.81 545.29L603.58 548.01L601.23 546.44L598.88 548.01L599.65 545.29L597.42 543.54L600.25 543.43ZM610.1 540.92L611.08 543.58L613.91 543.68L611.68 545.43L612.45 548.16L610.1 546.58L607.75 548.16L608.52 545.43L606.3 543.68L609.13 543.58ZM618.98 541.06L619.95 543.71L622.78 543.82L620.55 545.57L621.33 548.29L618.98 546.72L616.62 548.29L617.4 545.57L615.17 543.82L618 543.71ZM627.85 541.18L628.83 543.84L631.65 543.95L629.43 545.7L630.2 548.42L627.85 546.84L625.5 548.42L626.27 545.7L624.05 543.95L626.87 543.84ZM636.72 541.3L637.7 543.96L640.53 544.07L638.3 545.81L639.08 548.54L636.72 546.96L634.37 548.54L635.15 545.81L632.92 544.07L635.75 543.96ZM645.6 541.41L646.57 544.07L649.4 544.18L647.18 545.93L647.95 548.65L645.6 547.07L643.25 548.65L644.02 545.93L641.79 544.18L644.62 544.07ZM654.47 541.52L655.45 544.18L658.28 544.28L656.05 546.03L656.82 548.76L654.47 547.18L652.12 548.76L652.89 546.03L650.67 544.28L653.5 544.18ZM663.35 541.62L664.32 544.28L667.15 544.38L664.92 546.13L665.7 548.86L663.35 547.28L660.99 548.86L661.77 546.13L659.54 544.38L662.37 544.28ZM672.22 541.71L673.2 544.37L676.02 544.48L673.8 546.23L674.57 548.95L672.22 547.37L669.87 548.95L670.64 546.23L668.42 544.48L671.24 544.37ZM681.09 541.81L682.07 544.46L684.9 544.57L682.67 546.32L683.45 549.04L681.09 547.47L678.74 549.04L679.52 546.32L677.29 544.57L680.12 544.46ZM689.97 541.89L690.94 544.55L693.77 544.66L691.55 546.4L692.32 549.13L689.97 547.55L687.62 549.13L688.39 546.4L686.16 544.66L688.99 544.55ZM698.84 541.97L699.82 544.63L702.65 544.74L700.42 546.49L701.19 549.21L698.84 547.63L696.49 549.21L697.26 546.49L695.04 544.74L697.87 544.63ZM701.8 542L702.78 544.66L705.6 544.76L703.38 546.51L704.15 549.24L701.8 547.66L699.45 549.24L700.22 546.51L698 544.76L700.82 544.66Z"/>
</g>
<g id="legend" filter="url(#bl)">
<rect x="215.9" y="620.4" width="169.1" height="137.3" fill="#fff" stroke="#4a4a4a" stroke-width="1.4"/>
<path class="m" d="M223.5 641.2H262.8" style="stroke-width:3.8;stroke-dasharray:1.9 1.5;stroke:#d010d0"/>
<path class="b" d="M223.6 672.8H264.6" style="stroke-width:3.1;stroke-dasharray:8 8.4"/>
<path class="g" d="M223.8 705.3H264.4" style="stroke-width:3"/>
<path class="st" style="stroke-width:1" d="M243.7 738.7L241.53 740.19L242.27 737.66L240.18 736.06L242.82 735.99L243.7 733.5L244.58 735.99L247.22 736.06L245.13 737.66"/>
<text class="lg" x="269" y="646.1">NNs-BBRS: case-1</text>
<text class="lg" x="269" y="677.9">NNs-BBRS: case-2</text>
<text class="lg" x="269" y="710.4">NNs-BBRS: case-3</text>
<text class="lg" x="269" y="742.8">Numerical</text>
<path d="M385 690.3H446" fill="none" stroke="#222" stroke-width="1.1"/>
<path d="M451.2 690.3L435.4 684.6L441.8 690.3L435.4 696Z" fill="#111"/>
<ellipse cx="502.6" cy="691" rx="51.6" ry="30.7" fill="#fff" stroke="#222" stroke-width="1.1"/>
<text x="497.4" y="694.6" text-anchor="middle" style="font-family:'Liberation Sans',sans-serif;font-weight:bold;font-size:13px;letter-spacing:0.3px;fill:#1a1a1a">Legened</text>
</g>
</svg>
</body></html>
